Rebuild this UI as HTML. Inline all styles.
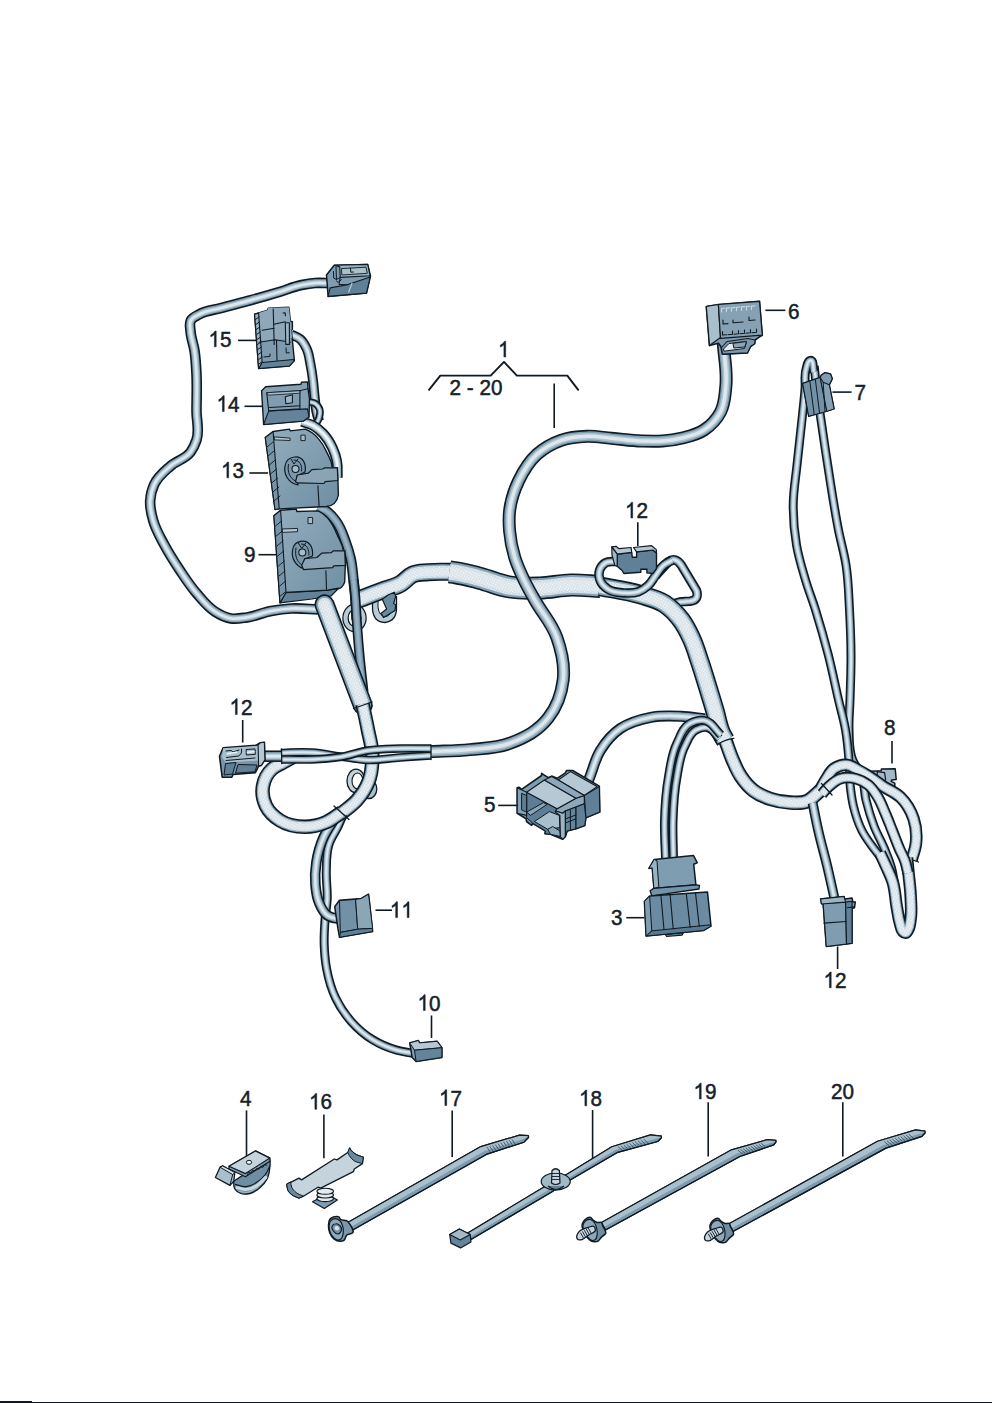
<!DOCTYPE html>
<html><head><meta charset="utf-8"><title>Wiring harness</title>
<style>
html,body{margin:0;padding:0;background:#fff;}
body{width:992px;height:1403px;overflow:hidden;font-family:"Liberation Sans",sans-serif;}
svg{display:block}
text{font-family:"Liberation Sans",sans-serif;fill:#14212b;}
</style></head><body>
<svg width="992" height="1403" viewBox="0 0 992 1403">
<rect width="992" height="1403" fill="#fff"/>
<defs><pattern id="dots" width="2.6" height="2.6" patternUnits="userSpaceOnUse" patternTransform="rotate(30)"><circle cx="1.3" cy="1.3" r="0.55" fill="#fff"/></pattern></defs>
<g fill="none" stroke-linecap="butt" stroke-linejoin="round"><path d="M330,283.2 C324.6,283.1 320.4,282.6 315,283 C310.1,283.3 306.4,284 301.6,285 C293.3,286.7 287.3,289.6 279.2,292 C269.1,295 261.2,297.3 251,300.1 C240.1,303.1 231.6,305.1 220.7,308.1 C213,310.2 206.4,310.3 199.5,314.2 C196.1,316.1 192.6,317.1 190.8,320.5 C189.1,323.9 190.3,327.2 190.5,331 C190.9,338.2 193.4,343.4 194.5,350.5 C195.8,359.1 196.1,366 196.5,374.7 C197.1,387.8 196.5,397.9 196.5,411 C196.5,421.4 199.7,430.1 196.5,440 C195,444.6 193.4,448.2 190.5,452.1 C185.2,459.2 176.9,460.3 170.3,466.2 C163.8,472 157.9,476.5 154.2,484.4 C151.7,489.8 150.6,494.5 150.2,500.5 C149.7,507.8 151.2,513.5 153.2,520.6 C155.8,529.8 159.8,536.3 164.3,544.8 C169.5,554.6 174.2,561.8 180.4,571 C185.9,579.2 190.1,585.7 196.5,593.2 C202.5,600.2 206.9,606.5 214.7,611.4 C220,614.8 224.6,617.4 230.8,618.4 C236.5,619.3 241.1,618.2 246.9,617.4 C255.8,616.2 262.2,612.6 271.1,611 C278.3,609.7 284,608.9 291.3,608.5 C300.9,608 308.4,609.1 318,609.5" stroke="#0f1a23" stroke-width="10.6"/><path d="M330,283.2 C324.6,283.1 320.4,282.6 315,283 C310.1,283.3 306.4,284 301.6,285 C293.3,286.7 287.3,289.6 279.2,292 C269.1,295 261.2,297.3 251,300.1 C240.1,303.1 231.6,305.1 220.7,308.1 C213,310.2 206.4,310.3 199.5,314.2 C196.1,316.1 192.6,317.1 190.8,320.5 C189.1,323.9 190.3,327.2 190.5,331 C190.9,338.2 193.4,343.4 194.5,350.5 C195.8,359.1 196.1,366 196.5,374.7 C197.1,387.8 196.5,397.9 196.5,411 C196.5,421.4 199.7,430.1 196.5,440 C195,444.6 193.4,448.2 190.5,452.1 C185.2,459.2 176.9,460.3 170.3,466.2 C163.8,472 157.9,476.5 154.2,484.4 C151.7,489.8 150.6,494.5 150.2,500.5 C149.7,507.8 151.2,513.5 153.2,520.6 C155.8,529.8 159.8,536.3 164.3,544.8 C169.5,554.6 174.2,561.8 180.4,571 C185.9,579.2 190.1,585.7 196.5,593.2 C202.5,600.2 206.9,606.5 214.7,611.4 C220,614.8 224.6,617.4 230.8,618.4 C236.5,619.3 241.1,618.2 246.9,617.4 C255.8,616.2 262.2,612.6 271.1,611 C278.3,609.7 284,608.9 291.3,608.5 C300.9,608 308.4,609.1 318,609.5" stroke="#7f9db1" stroke-width="7.4"/><path d="M330,283.2 C324.6,283.1 320.4,282.6 315,283 C310.1,283.3 306.4,284 301.6,285 C293.3,286.7 287.3,289.6 279.2,292 C269.1,295 261.2,297.3 251,300.1 C240.1,303.1 231.6,305.1 220.7,308.1 C213,310.2 206.4,310.3 199.5,314.2 C196.1,316.1 192.6,317.1 190.8,320.5 C189.1,323.9 190.3,327.2 190.5,331 C190.9,338.2 193.4,343.4 194.5,350.5 C195.8,359.1 196.1,366 196.5,374.7 C197.1,387.8 196.5,397.9 196.5,411 C196.5,421.4 199.7,430.1 196.5,440 C195,444.6 193.4,448.2 190.5,452.1 C185.2,459.2 176.9,460.3 170.3,466.2 C163.8,472 157.9,476.5 154.2,484.4 C151.7,489.8 150.6,494.5 150.2,500.5 C149.7,507.8 151.2,513.5 153.2,520.6 C155.8,529.8 159.8,536.3 164.3,544.8 C169.5,554.6 174.2,561.8 180.4,571 C185.9,579.2 190.1,585.7 196.5,593.2 C202.5,600.2 206.9,606.5 214.7,611.4 C220,614.8 224.6,617.4 230.8,618.4 C236.5,619.3 241.1,618.2 246.9,617.4 C255.8,616.2 262.2,612.6 271.1,611 C278.3,609.7 284,608.9 291.3,608.5 C300.9,608 308.4,609.1 318,609.5" stroke="#aec3d0" stroke-width="5"/><path d="M330,283.2 C324.6,283.1 320.4,282.6 315,283 C310.1,283.3 306.4,284 301.6,285 C293.3,286.7 287.3,289.6 279.2,292 C269.1,295 261.2,297.3 251,300.1 C240.1,303.1 231.6,305.1 220.7,308.1 C213,310.2 206.4,310.3 199.5,314.2 C196.1,316.1 192.6,317.1 190.8,320.5 C189.1,323.9 190.3,327.2 190.5,331 C190.9,338.2 193.4,343.4 194.5,350.5 C195.8,359.1 196.1,366 196.5,374.7 C197.1,387.8 196.5,397.9 196.5,411 C196.5,421.4 199.7,430.1 196.5,440 C195,444.6 193.4,448.2 190.5,452.1 C185.2,459.2 176.9,460.3 170.3,466.2 C163.8,472 157.9,476.5 154.2,484.4 C151.7,489.8 150.6,494.5 150.2,500.5 C149.7,507.8 151.2,513.5 153.2,520.6 C155.8,529.8 159.8,536.3 164.3,544.8 C169.5,554.6 174.2,561.8 180.4,571 C185.9,579.2 190.1,585.7 196.5,593.2 C202.5,600.2 206.9,606.5 214.7,611.4 C220,614.8 224.6,617.4 230.8,618.4 C236.5,619.3 241.1,618.2 246.9,617.4 C255.8,616.2 262.2,612.6 271.1,611 C278.3,609.7 284,608.9 291.3,608.5 C300.9,608 308.4,609.1 318,609.5" stroke="#dde7ec" stroke-width="2.7"/></g>
<path d="M326.5,275 L334.2,265.3 L367.7,264.4 L370.5,276.2 L366.5,293.1 L328.1,296.4Z" fill="#7f9cb0" stroke="#0f1a23" stroke-width="1.5" stroke-linejoin="round"/>
<path d="M328.1,296.4 L330.2,287.9 L347.1,284.7 L368.1,277.8 L370.3,276.5 L366.5,293.1Z" fill="#5f8097" stroke="#0f1a23" stroke-width="1.1" stroke-linejoin="round"/>
<path d="M334.2,265.3 L367.7,264.4 L370.1,275.8 L340.2,277.4 L339.8,266.9Z" fill="#9ab2c1" stroke="#0f1a23" stroke-width="1.1" stroke-linejoin="round"/>
<path d="M341.5,268.6 L366,267.2 L367.3,273.3 L341.8,275Z" fill="#a9bfcc" stroke="#0f1a23" stroke-width="0.9" stroke-linejoin="round"/>
<path d="M350.5,268.2 l0.3,4 l2.6,-0.2 M336,267 l0.5,12.5 l3.7,-2 M333.5,271.5 l0.2,6.5 l2.6,1.5 M336.3,281 q2,3 5,-1.5 M340.2,277.4 L339,284.5 L347.1,284.7" fill="none" stroke="#0f1a23" stroke-width="1" stroke-linejoin="round" stroke-linecap="round" />
<path d="M352,283.3 L348.7,292" fill="none" stroke="#b9cbd6" stroke-width="1.2" stroke-linejoin="round" stroke-linecap="round" />
<g fill="none" stroke-linecap="butt" stroke-linejoin="round"><path d="M291,334.5 C294.4,336.2 297.5,336.8 300.4,339.3 C303.4,341.9 304.8,344.9 306.5,348.4 C309.1,353.8 309.3,358.6 310.5,364.5 C311.7,370.3 312.3,374.8 313,380.6 C313.8,387.1 314,392.3 314.8,398.8 C315.4,403.6 315.5,407.3 316.5,412 C317.2,415.3 318.1,417.8 319,421" stroke="#0f1a23" stroke-width="10"/><path d="M291,334.5 C294.4,336.2 297.5,336.8 300.4,339.3 C303.4,341.9 304.8,344.9 306.5,348.4 C309.1,353.8 309.3,358.6 310.5,364.5 C311.7,370.3 312.3,374.8 313,380.6 C313.8,387.1 314,392.3 314.8,398.8 C315.4,403.6 315.5,407.3 316.5,412 C317.2,415.3 318.1,417.8 319,421" stroke="#7f9db1" stroke-width="6.8"/><path d="M291,334.5 C294.4,336.2 297.5,336.8 300.4,339.3 C303.4,341.9 304.8,344.9 306.5,348.4 C309.1,353.8 309.3,358.6 310.5,364.5 C311.7,370.3 312.3,374.8 313,380.6 C313.8,387.1 314,392.3 314.8,398.8 C315.4,403.6 315.5,407.3 316.5,412 C317.2,415.3 318.1,417.8 319,421" stroke="#aec3d0" stroke-width="4.6"/><path d="M291,334.5 C294.4,336.2 297.5,336.8 300.4,339.3 C303.4,341.9 304.8,344.9 306.5,348.4 C309.1,353.8 309.3,358.6 310.5,364.5 C311.7,370.3 312.3,374.8 313,380.6 C313.8,387.1 314,392.3 314.8,398.8 C315.4,403.6 315.5,407.3 316.5,412 C317.2,415.3 318.1,417.8 319,421" stroke="#dde7ec" stroke-width="2.4"/></g>
<g fill="none" stroke-linecap="butt" stroke-linejoin="round"><path d="M307,401.6 C310.1,402.4 313,401.9 315.6,403.8 C317.7,405.4 319.1,407.3 319.8,409.9 C320.6,412.7 319.9,415.1 319.1,417.9 C318.4,420.3 317.1,421.8 316,424" stroke="#0f1a23" stroke-width="7.5"/><path d="M307,401.6 C310.1,402.4 313,401.9 315.6,403.8 C317.7,405.4 319.1,407.3 319.8,409.9 C320.6,412.7 319.9,415.1 319.1,417.9 C318.4,420.3 317.1,421.8 316,424" stroke="#7f9db1" stroke-width="4.3"/><path d="M307,401.6 C310.1,402.4 313,401.9 315.6,403.8 C317.7,405.4 319.1,407.3 319.8,409.9 C320.6,412.7 319.9,415.1 319.1,417.9 C318.4,420.3 317.1,421.8 316,424" stroke="#aec3d0" stroke-width="2.9"/><path d="M307,401.6 C310.1,402.4 313,401.9 315.6,403.8 C317.7,405.4 319.1,407.3 319.8,409.9 C320.6,412.7 319.9,415.1 319.1,417.9 C318.4,420.3 317.1,421.8 316,424" stroke="#dde7ec" stroke-width="1.5"/></g>
<g fill="none" stroke-linecap="butt" stroke-linejoin="round"><path d="M302,421.5 C306,422.9 309.3,423.5 313,425.5 C317,427.7 319.8,430.2 323,433.5 C327.3,438 329.9,442.3 332.5,448 C334.6,452.5 335.8,456.2 336.8,461 C338,467 337.2,471.9 337.5,478" stroke="#0f1a23" stroke-width="10.5"/><path d="M302,421.5 C306,422.9 309.3,423.5 313,425.5 C317,427.7 319.8,430.2 323,433.5 C327.3,438 329.9,442.3 332.5,448 C334.6,452.5 335.8,456.2 336.8,461 C338,467 337.2,471.9 337.5,478" stroke="#8eaabb" stroke-width="7.3"/><path d="M302,421.5 C306,422.9 309.3,423.5 313,425.5 C317,427.7 319.8,430.2 323,433.5 C327.3,438 329.9,442.3 332.5,448 C334.6,452.5 335.8,456.2 336.8,461 C338,467 337.2,471.9 337.5,478" stroke="#bfd0da" stroke-width="5"/><path d="M302,421.5 C306,422.9 309.3,423.5 313,425.5 C317,427.7 319.8,430.2 323,433.5 C327.3,438 329.9,442.3 332.5,448 C334.6,452.5 335.8,456.2 336.8,461 C338,467 337.2,471.9 337.5,478" stroke="#eef3f6" stroke-width="2.6"/></g>
<g fill="none" stroke-linecap="butt" stroke-linejoin="round"><path d="M318,507 C321.2,508.6 324,509.4 327,511.5 C330.8,514.2 333.2,517.2 336,521 C340.9,527.5 342.7,533.9 345.5,541.5 C347.7,547.3 349.1,551.9 350.5,558 C352.3,565.8 352.6,572.1 353.5,580 C354.1,585 354.5,589 355,594 C355.9,603.3 356.1,610.6 356.7,620" stroke="#0f1a23" stroke-width="10.5"/><path d="M318,507 C321.2,508.6 324,509.4 327,511.5 C330.8,514.2 333.2,517.2 336,521 C340.9,527.5 342.7,533.9 345.5,541.5 C347.7,547.3 349.1,551.9 350.5,558 C352.3,565.8 352.6,572.1 353.5,580 C354.1,585 354.5,589 355,594 C355.9,603.3 356.1,610.6 356.7,620" stroke="#6d8ca2" stroke-width="7.3"/><path d="M318,507 C321.2,508.6 324,509.4 327,511.5 C330.8,514.2 333.2,517.2 336,521 C340.9,527.5 342.7,533.9 345.5,541.5 C347.7,547.3 349.1,551.9 350.5,558 C352.3,565.8 352.6,572.1 353.5,580 C354.1,585 354.5,589 355,594 C355.9,603.3 356.1,610.6 356.7,620" stroke="#86a3b6" stroke-width="5"/><path d="M318,507 C321.2,508.6 324,509.4 327,511.5 C330.8,514.2 333.2,517.2 336,521 C340.9,527.5 342.7,533.9 345.5,541.5 C347.7,547.3 349.1,551.9 350.5,558 C352.3,565.8 352.6,572.1 353.5,580 C354.1,585 354.5,589 355,594 C355.9,603.3 356.1,610.6 356.7,620" stroke="#9bb4c4" stroke-width="2.6"/></g>
<path d="M254.6,314.1 L267.7,310.1 L268.2,308.1 L288.9,307.3 L290.4,321.2 L292.4,321.7 L292.4,329.2 L291.4,330.2 L294.4,360.5 L289.4,366 L258.6,368.5Z" fill="#7e9bae" stroke="#0f1a23" stroke-width="1.4" stroke-linejoin="round"/>
<path d="M258.6,313.1 L267.7,310.1 L268.2,308.1 L288.9,307.3 L290.4,321.2 L291.5,331 L292,338 L262,341.5 L260.3,335Z" fill="#8ea8b9" stroke="#0f1a23" stroke-width="0" stroke-linejoin="round"/>
<path d="M258.6,368.5 L262.1,362.5 L293.4,359.5 L294.4,360.5 L289.4,366Z" fill="#63829a" stroke="#0f1a23" stroke-width="1.1" stroke-linejoin="round"/>
<path d="M254.6,314.1 L258.6,313.1 L262.1,362.5 L258.6,368.5Z" fill="#9ab2c1" stroke="#0f1a23" stroke-width="1.1" stroke-linejoin="round"/>
<path d="M255.4,319.5 l3.6,-2.5 M255.8,324.5 l3.6,-2.5 M256.2,329.5 l3.6,-2.5 M256.6,334.5 l3.6,-2.5 M257,339.5 l3.6,-2.5 M257.4,344.5 l3.6,-2.5 M257.8,349.5 l3.6,-2.5 M258.2,354.5 l3.6,-2.5 M258.6,359.5 l3.6,-2.5 M259,364 l3,-2.2" fill="none" stroke="#0f1a23" stroke-width="1" stroke-linejoin="round" stroke-linecap="round" />
<path d="M273.2,309 L274.2,344.4 M274,324.2 L285.3,321.7 M262.1,330.2 L274.2,328.2 M259.1,342.3 L275.2,339.8 L290.4,342.3 M276.5,340 L277,360.5 M283,313 l2.2,-0.3 l0.2,3" fill="none" stroke="#0f1a23" stroke-width="1.1" stroke-linejoin="round" stroke-linecap="round" />
<path d="M285.3,322.7 L289.4,322.7 L289.4,344.4 L285.8,344.4Z" fill="#9bb3c2" stroke="#0f1a23" stroke-width="1.1" stroke-linejoin="round"/>
<path d="M264,357 l6,-0.6 l0,-2.5 M286,348 l0.3,5 l3,-0.3" fill="none" stroke="#0f1a23" stroke-width="1" stroke-linejoin="round" stroke-linecap="round" />
<path d="M261.6,390.7 L265.7,386.7 L300.9,384.2 L301.5,382.2 L307.5,381.9 L308,388.7 L309.5,398.8 L309,416.9 L303.5,421 L263.6,424.5Z" fill="#86a1b3" stroke="#0f1a23" stroke-width="1.4" stroke-linejoin="round"/>
<path d="M263.6,424.5 L268.7,410.9 L307.5,408.9 L309,416.9 L303.5,421Z" fill="#64839a" stroke="#0f1a23" stroke-width="1.1" stroke-linejoin="round"/>
<path d="M266.7,392.7 L299.9,390.7 L299.9,408.9 L268.7,410.9Z" fill="#7f9cb0" stroke="#0f1a23" stroke-width="1.1" stroke-linejoin="round"/>
<path d="M268.5,395.2 L299.9,393.2 L299.9,390.7 L266.7,392.7Z" fill="#a7bcc9" stroke="#0f1a23" stroke-width="0.8" stroke-linejoin="round"/>
<path d="M285.3,396.8 L292.4,394.8 L292.4,402.8 L285.8,403.8Z" fill="#9fb6c4" stroke="#0f1a23" stroke-width="1.1" stroke-linejoin="round"/>
<path d="M299.9,390.7 L308,388.7 M269.5,407.5 L299.9,405.8" fill="none" stroke="#0f1a23" stroke-width="1" stroke-linejoin="round" stroke-linecap="round" />
<defs><linearGradient id="gface" x1="0" y1="0" x2="1" y2="1"><stop offset="0" stop-color="#93adbd"/><stop offset="1" stop-color="#6f8ea3"/></linearGradient></defs>
<path d="M265.3,437.5 L273.1,431.5 L289.5,429.1 L290.1,430.9 L305.2,429.1 C311,431.5 315,434.5 317.9,438.1 C321.5,442 324.5,447 326.4,451.4 C328.7,456 330.4,459.5 331.2,462.3 L332.4,468 L337.5,467.8 L338,482.9 L338.4,495 C337,503 332,506 326.4,506.5 L279.2,508.9 L275,509.5 Z" fill="url(#gface)" stroke="#0f1a23" stroke-width="1.4" stroke-linejoin="round" stroke-linecap="round" />
<path d="M265.3,437.5 L273.1,431.5 L279.2,508.9 L275,509.5 Z" fill="#7895a8" stroke="#0f1a23" stroke-width="1.1" stroke-linejoin="round" stroke-linecap="round" />
<path d="M267,447 l6,-5 M268,456 l6,-5 M269.3,465 l6,-5 M270.5,474 l6,-5 M271.7,483 l6,-5 M272.9,492 l6,-5 M274,501 l6,-5" fill="none" stroke="#0f1a23" stroke-width="0.9" stroke-linejoin="round" stroke-linecap="round" />
<path d="M274.4,436.9 L290.1,438.1 L290.1,440.5 L275,439.9 Z" fill="#b4c6d1" stroke="#0f1a23" stroke-width="0.9" stroke-linejoin="round" stroke-linecap="round" />
<path d="M301.3,435.1 h3.9 v5.5 h-3.9 Z" fill="#a9bdc9" stroke="#0f1a23" stroke-width="0.9" stroke-linejoin="round" stroke-linecap="round" />
<path d="M317.9,485.9 L319.1,506" fill="none" stroke="#0f1a23" stroke-width="1.1" stroke-linejoin="round" stroke-linecap="round" />
<path d="M294.5,457 C303,456 306.5,464 305,472 L297,476 L298,485 C288,483 283.5,474 285,466 C286,460 290,457.5 294.5,457 Z" fill="#7996aa" stroke="#0f1a23" stroke-width="1.2" stroke-linejoin="round" stroke-linecap="round" />
<path d="M294,460 C300,460 302.5,466 301.5,471 M288.5,464.5 C287,472 290,478.5 295.5,481 M291,459 l3,5 l4,-5" fill="none" stroke="#0f1a23" stroke-width="1" stroke-linejoin="round" stroke-linecap="round" />
<circle cx="295.5" cy="469" r="3.5" fill="#a9bdc9" stroke="#0f1a23" stroke-width="1.1"/>
<path d="M295.5,481.7 L297.3,475 L308.2,473.2 L311.9,469.6 L322.7,469 L324.6,467.8 L337.3,467.8 L337.9,480.5 L325.2,481.7 L323.9,483.5 L297.3,482.9 Z" fill="#8aa4b6" stroke="#0f1a23" stroke-width="1.2" stroke-linejoin="round" stroke-linecap="round" />
<path d="M280,602.8 L285.5,592.5 L327.7,590.1 L338.6,588.3 L331,596 L312,599 Z" fill="#63829a" stroke="#0f1a23" stroke-width="1.2" stroke-linejoin="round" stroke-linecap="round" />
<path d="M273.9,515.7 L280.6,510.3 L296.3,509.1 L296.9,511.5 L318.1,510.9 C322,512.5 325,515 327.7,518.1 C331,522 334,527.5 336.2,532.7 C338.5,537.5 340.8,542 342.3,546 L343.5,550.8 L344.7,550.8 L345.3,565.3 L344.7,582 C343,587 340,589 338.6,588.3 L327.7,590.1 L285.5,592.5 L280,602.8 Z" fill="url(#gface)" stroke="#0f1a23" stroke-width="1.4" stroke-linejoin="round" stroke-linecap="round" />
<path d="M273.9,515.7 L280.6,510.3 L286,592.5 L280,602.8 Z" fill="#7895a8" stroke="#0f1a23" stroke-width="1.1" stroke-linejoin="round" stroke-linecap="round" />
<path d="M275.5,526 l6,-5 M276.3,536 l6,-5 M277,546 l6,-5 M277.7,556 l6,-5 M278.4,566 l6,-5 M279,576 l6,-5 M279.7,586 l6,-5 M280.3,596 l5,-4" fill="none" stroke="#0f1a23" stroke-width="0.9" stroke-linejoin="round" stroke-linecap="round" />
<path d="M282.4,529 L297.5,528.4 L297.5,531.7 L283,532.4 Z" fill="#b4c6d1" stroke="#0f1a23" stroke-width="0.9" stroke-linejoin="round" stroke-linecap="round" />
<path d="M308.4,517.5 h4.2 v6.1 h-4.2 Z" fill="#a9bdc9" stroke="#0f1a23" stroke-width="0.9" stroke-linejoin="round" stroke-linecap="round" />
<path d="M325.9,570.8 L326.5,589.5" fill="none" stroke="#0f1a23" stroke-width="1.1" stroke-linejoin="round" stroke-linecap="round" />
<path d="M301.5,541.2 C310,540.5 313.5,548 312.4,556 L304.5,559 L304,568.8 C295.5,566 291,558 292.6,550 C293.5,544.5 297,541.8 301.5,541.2 Z" fill="#7996aa" stroke="#0f1a23" stroke-width="1.2" stroke-linejoin="round" stroke-linecap="round" />
<path d="M301.5,544 C307,544 309.5,550 308.8,555 M296,548 C294.5,556 297,562 302,565 M298.3,543 l3.5,5.5 l4,-5.5" fill="none" stroke="#0f1a23" stroke-width="1" stroke-linejoin="round" stroke-linecap="round" />
<circle cx="302.3" cy="552.5" r="3.5" fill="#a9bdc9" stroke="#0f1a23" stroke-width="1.1"/>
<path d="M301.7,565.3 L304.8,558.7 L316.9,557.5 L321.7,553.2 L331.4,552.6 L333.2,550.8 L344.7,550.8 L345.3,565.3 L333.8,565.9 L332.6,567.7 L303.5,569.6 Z" fill="#8aa4b6" stroke="#0f1a23" stroke-width="1.2" stroke-linejoin="round" stroke-linecap="round" />
<path d="M372.5,600 L372.5,606 Q372,622 385,622.5 Q397,621 396.5,607 L396.5,596" fill="#b9cbd6" stroke="#0f1a23" stroke-width="1.3"/><path d="M378,600 L378,607 Q379,616.5 386,616.5 Q391.5,615.5 392,607 L392,598" fill="#fff" stroke="#0f1a23" stroke-width="1"/>
<g fill="none" stroke-linecap="butt" stroke-linejoin="round"><path d="M357,600.3 C366,596.8 373,594 382,590.6 C388.8,588 394.7,587.2 401,583.5 C405.6,580.8 407.8,576.6 412.7,574.5 C417.8,572.3 422.5,572.7 428,572.2 C436.6,571.4 443.4,571.9 452,571.8" stroke="#0f1a23" stroke-width="18"/><path d="M357,600.3 C366,596.8 373,594 382,590.6 C388.8,588 394.7,587.2 401,583.5 C405.6,580.8 407.8,576.6 412.7,574.5 C417.8,572.3 422.5,572.7 428,572.2 C436.6,571.4 443.4,571.9 452,571.8" stroke="#83a2b6" stroke-width="14.8"/><path d="M357,600.3 C366,596.8 373,594 382,590.6 C388.8,588 394.7,587.2 401,583.5 C405.6,580.8 407.8,576.6 412.7,574.5 C417.8,572.3 422.5,572.7 428,572.2 C436.6,571.4 443.4,571.9 452,571.8" stroke="#cfdce4" stroke-width="11.8"/><path d="M357,600.3 C366,596.8 373,594 382,590.6 C388.8,588 394.7,587.2 401,583.5 C405.6,580.8 407.8,576.6 412.7,574.5 C417.8,572.3 422.5,572.7 428,572.2 C436.6,571.4 443.4,571.9 452,571.8" stroke="#dbe5eb" stroke-width="7.4"/><path d="M357,600.3 C366,596.8 373,594 382,590.6 C388.8,588 394.7,587.2 401,583.5 C405.6,580.8 407.8,576.6 412.7,574.5 C417.8,572.3 422.5,572.7 428,572.2 C436.6,571.4 443.4,571.9 452,571.8" stroke="url(#dots)" stroke-width="11"/></g>
<g fill="none" stroke-linecap="butt" stroke-linejoin="round"><path d="M449.5,571.9 C451.8,572.2 453.7,572.4 456,572.8 C464.8,574.2 471.4,576.1 480,578.3 C490.9,581.1 498.9,585.3 510,587 C520.7,588.7 529.2,588.3 540,588 C551.2,587.7 559.8,585.2 571,585 C581.6,584.8 589.8,585.9 600.3,586.4" stroke="#0f1a23" stroke-width="23"/><path d="M449.5,571.9 C451.8,572.2 453.7,572.4 456,572.8 C464.8,574.2 471.4,576.1 480,578.3 C490.9,581.1 498.9,585.3 510,587 C520.7,588.7 529.2,588.3 540,588 C551.2,587.7 559.8,585.2 571,585 C581.6,584.8 589.8,585.9 600.3,586.4" stroke="#83a2b6" stroke-width="19.8"/><path d="M449.5,571.9 C451.8,572.2 453.7,572.4 456,572.8 C464.8,574.2 471.4,576.1 480,578.3 C490.9,581.1 498.9,585.3 510,587 C520.7,588.7 529.2,588.3 540,588 C551.2,587.7 559.8,585.2 571,585 C581.6,584.8 589.8,585.9 600.3,586.4" stroke="#cfdce4" stroke-width="15.8"/><path d="M449.5,571.9 C451.8,572.2 453.7,572.4 456,572.8 C464.8,574.2 471.4,576.1 480,578.3 C490.9,581.1 498.9,585.3 510,587 C520.7,588.7 529.2,588.3 540,588 C551.2,587.7 559.8,585.2 571,585 C581.6,584.8 589.8,585.9 600.3,586.4" stroke="#dbe5eb" stroke-width="9.9"/><path d="M449.5,571.9 C451.8,572.2 453.7,572.4 456,572.8 C464.8,574.2 471.4,576.1 480,578.3 C490.9,581.1 498.9,585.3 510,587 C520.7,588.7 529.2,588.3 540,588 C551.2,587.7 559.8,585.2 571,585 C581.6,584.8 589.8,585.9 600.3,586.4" stroke="url(#dots)" stroke-width="14.7"/></g>
<g fill="none" stroke-linecap="butt" stroke-linejoin="round"><path d="M664,612 L671,606.5 Q676,601.8 684,601.6 L690,601.2 Q699.5,600 696.5,590.5 L681.5,565.5 Q675.5,556.5 668.5,561.5 L655.3,576" stroke="#0f1a23" stroke-width="9.5"/><path d="M664,612 L671,606.5 Q676,601.8 684,601.6 L690,601.2 Q699.5,600 696.5,590.5 L681.5,565.5 Q675.5,556.5 668.5,561.5 L655.3,576" stroke="#7f9db1" stroke-width="6.3"/><path d="M664,612 L671,606.5 Q676,601.8 684,601.6 L690,601.2 Q699.5,600 696.5,590.5 L681.5,565.5 Q675.5,556.5 668.5,561.5 L655.3,576" stroke="#aec3d0" stroke-width="4.3"/><path d="M664,612 L671,606.5 Q676,601.8 684,601.6 L690,601.2 Q699.5,600 696.5,590.5 L681.5,565.5 Q675.5,556.5 668.5,561.5 L655.3,576" stroke="#dde7ec" stroke-width="2.3"/></g>
<g fill="none" stroke-linecap="butt" stroke-linejoin="round"><path d="M600,586.4 C614.6,589.4 626.3,590.4 640.6,594.8 C649.3,597.5 656.6,598.7 664.2,603.6 C671.4,608.2 676.1,613.4 681.2,620.2 C685.7,626.2 688.2,631.6 691.4,638.4 C695.3,646.8 697.1,653.8 700.1,662.6 C703,671.3 705,678.1 707.7,686.8 C710.4,695.5 712.4,702.3 715,711 C717.6,719.7 718,727.2 722.3,735.2 C723.4,737.2 724.3,738.7 725.5,740.6" stroke="#0f1a23" stroke-width="19.5"/><path d="M600,586.4 C614.6,589.4 626.3,590.4 640.6,594.8 C649.3,597.5 656.6,598.7 664.2,603.6 C671.4,608.2 676.1,613.4 681.2,620.2 C685.7,626.2 688.2,631.6 691.4,638.4 C695.3,646.8 697.1,653.8 700.1,662.6 C703,671.3 705,678.1 707.7,686.8 C710.4,695.5 712.4,702.3 715,711 C717.6,719.7 718,727.2 722.3,735.2 C723.4,737.2 724.3,738.7 725.5,740.6" stroke="#83a2b6" stroke-width="16.3"/><path d="M600,586.4 C614.6,589.4 626.3,590.4 640.6,594.8 C649.3,597.5 656.6,598.7 664.2,603.6 C671.4,608.2 676.1,613.4 681.2,620.2 C685.7,626.2 688.2,631.6 691.4,638.4 C695.3,646.8 697.1,653.8 700.1,662.6 C703,671.3 705,678.1 707.7,686.8 C710.4,695.5 712.4,702.3 715,711 C717.6,719.7 718,727.2 722.3,735.2 C723.4,737.2 724.3,738.7 725.5,740.6" stroke="#cfdce4" stroke-width="13"/><path d="M600,586.4 C614.6,589.4 626.3,590.4 640.6,594.8 C649.3,597.5 656.6,598.7 664.2,603.6 C671.4,608.2 676.1,613.4 681.2,620.2 C685.7,626.2 688.2,631.6 691.4,638.4 C695.3,646.8 697.1,653.8 700.1,662.6 C703,671.3 705,678.1 707.7,686.8 C710.4,695.5 712.4,702.3 715,711 C717.6,719.7 718,727.2 722.3,735.2 C723.4,737.2 724.3,738.7 725.5,740.6" stroke="#dbe5eb" stroke-width="8.2"/><path d="M600,586.4 C614.6,589.4 626.3,590.4 640.6,594.8 C649.3,597.5 656.6,598.7 664.2,603.6 C671.4,608.2 676.1,613.4 681.2,620.2 C685.7,626.2 688.2,631.6 691.4,638.4 C695.3,646.8 697.1,653.8 700.1,662.6 C703,671.3 705,678.1 707.7,686.8 C710.4,695.5 712.4,702.3 715,711 C717.6,719.7 718,727.2 722.3,735.2 C723.4,737.2 724.3,738.7 725.5,740.6" stroke="url(#dots)" stroke-width="12.1"/></g>
<ellipse cx="354.5" cy="618" rx="9" ry="11" fill="none" stroke="#0f1a23" stroke-width="6.5"/><ellipse cx="354.5" cy="618" rx="9" ry="11" fill="none" stroke="#b9cbd6" stroke-width="4"/>
<path d="M382.3,599.3 L388,595 L394.3,592.2 L395.7,596.4 L393.6,603.5 L395.7,604.9 L395,610.6 L383.7,617.6 L380.9,613.4 L386.6,609.1Z" fill="#6a8aa0" stroke="#0f1a23" stroke-width="1.2" stroke-linejoin="round"/>
<g fill="none" stroke-linecap="butt" stroke-linejoin="round"><path d="M353.5,580 C354,585 354.5,589 355,594 C355.9,603.3 356,610.6 356.7,620 C357.6,632.6 358.3,642.4 359.5,655 C360.7,668.3 362.1,678.7 363.5,692" stroke="#0f1a23" stroke-width="10"/><path d="M353.5,580 C354,585 354.5,589 355,594 C355.9,603.3 356,610.6 356.7,620 C357.6,632.6 358.3,642.4 359.5,655 C360.7,668.3 362.1,678.7 363.5,692" stroke="#6d8ca2" stroke-width="6.8"/><path d="M353.5,580 C354,585 354.5,589 355,594 C355.9,603.3 356,610.6 356.7,620 C357.6,632.6 358.3,642.4 359.5,655 C360.7,668.3 362.1,678.7 363.5,692" stroke="#86a3b6" stroke-width="4.6"/><path d="M353.5,580 C354,585 354.5,589 355,594 C355.9,603.3 356,610.6 356.7,620 C357.6,632.6 358.3,642.4 359.5,655 C360.7,668.3 362.1,678.7 363.5,692" stroke="#9bb4c4" stroke-width="2.4"/></g>
<ellipse cx="369" cy="789" rx="7.8" ry="9.5" fill="#a9bfcc" stroke="#0f1a23" stroke-width="1.3"/>
<ellipse cx="356" cy="781" rx="9" ry="11.8" fill="#c3d2dc" stroke="#0f1a23" stroke-width="1.3"/><ellipse cx="357.5" cy="781" rx="5.5" ry="8" fill="#fff" stroke="#0f1a23" stroke-width="1.1"/>
<g fill="none" stroke-linecap="round" stroke-linejoin="round"><path d="M324.5,604.4 L362.8,705.2" stroke="#0f1a23" stroke-width="20"/><path d="M324.5,604.4 L362.8,705.2" stroke="#83a2b6" stroke-width="16.8"/><path d="M324.5,604.4 L362.8,705.2" stroke="#cfdce4" stroke-width="13.4"/><path d="M324.5,604.4 L362.8,705.2" stroke="#dbe5eb" stroke-width="8.4"/><path d="M324.5,604.4 L362.8,705.2" stroke="url(#dots)" stroke-width="12.4"/></g>
<g fill="none" stroke-linecap="butt" stroke-linejoin="round"><path d="M362.5,704 C364.4,713.1 366.1,720.2 367.8,729.3 C369.6,738.7 372.2,745.9 372.3,755.5 C372.4,765 372,772.8 368.5,781.7 C365.7,789 362.1,794.2 357,800.1 C352.2,805.6 347.1,808.5 341.5,813.2" stroke="#0f1a23" stroke-width="14.5"/><path d="M362.5,704 C364.4,713.1 366.1,720.2 367.8,729.3 C369.6,738.7 372.2,745.9 372.3,755.5 C372.4,765 372,772.8 368.5,781.7 C365.7,789 362.1,794.2 357,800.1 C352.2,805.6 347.1,808.5 341.5,813.2" stroke="#83a2b6" stroke-width="11.3"/><path d="M362.5,704 C364.4,713.1 366.1,720.2 367.8,729.3 C369.6,738.7 372.2,745.9 372.3,755.5 C372.4,765 372,772.8 368.5,781.7 C365.7,789 362.1,794.2 357,800.1 C352.2,805.6 347.1,808.5 341.5,813.2" stroke="#cfdce4" stroke-width="9"/><path d="M362.5,704 C364.4,713.1 366.1,720.2 367.8,729.3 C369.6,738.7 372.2,745.9 372.3,755.5 C372.4,765 372,772.8 368.5,781.7 C365.7,789 362.1,794.2 357,800.1 C352.2,805.6 347.1,808.5 341.5,813.2" stroke="#dbe5eb" stroke-width="5.7"/><path d="M362.5,704 C364.4,713.1 366.1,720.2 367.8,729.3 C369.6,738.7 372.2,745.9 372.3,755.5 C372.4,765 372,772.8 368.5,781.7 C365.7,789 362.1,794.2 357,800.1 C352.2,805.6 347.1,808.5 341.5,813.2" stroke="url(#dots)" stroke-width="8.4"/></g>
<path d="M353.6,708.5 L372,702" fill="none" stroke="#0f1a23" stroke-width="1.3" stroke-linejoin="round" stroke-linecap="round" />
<g fill="none" stroke-linecap="butt" stroke-linejoin="round"><path d="M343.5,814 C341.6,818.4 340.1,821.9 338.1,826.3 C335,832.9 331.2,837.5 329,844.4 C326,853.8 326.6,861.8 326.3,871.7 C326,881.5 327.6,889.1 327.2,898.9 C326.9,906.6 325.5,912.6 325,920.3 C324.4,929 323.9,935.8 324.2,944.5 C324.5,953.3 325,960.1 326.6,968.7 C328.6,979.4 330.8,987.8 335.5,997.7 C340,1007.1 344.6,1014.1 351.6,1021.9 C358.2,1029.3 364.2,1034.5 372.6,1039.7 C380.7,1044.7 387.7,1047.6 396.8,1050.2 C402.5,1051.8 407.2,1052.2 413,1053.4" stroke="#0f1a23" stroke-width="9"/><path d="M343.5,814 C341.6,818.4 340.1,821.9 338.1,826.3 C335,832.9 331.2,837.5 329,844.4 C326,853.8 326.6,861.8 326.3,871.7 C326,881.5 327.6,889.1 327.2,898.9 C326.9,906.6 325.5,912.6 325,920.3 C324.4,929 323.9,935.8 324.2,944.5 C324.5,953.3 325,960.1 326.6,968.7 C328.6,979.4 330.8,987.8 335.5,997.7 C340,1007.1 344.6,1014.1 351.6,1021.9 C358.2,1029.3 364.2,1034.5 372.6,1039.7 C380.7,1044.7 387.7,1047.6 396.8,1050.2 C402.5,1051.8 407.2,1052.2 413,1053.4" stroke="#7f9db1" stroke-width="5.8"/><path d="M343.5,814 C341.6,818.4 340.1,821.9 338.1,826.3 C335,832.9 331.2,837.5 329,844.4 C326,853.8 326.6,861.8 326.3,871.7 C326,881.5 327.6,889.1 327.2,898.9 C326.9,906.6 325.5,912.6 325,920.3 C324.4,929 323.9,935.8 324.2,944.5 C324.5,953.3 325,960.1 326.6,968.7 C328.6,979.4 330.8,987.8 335.5,997.7 C340,1007.1 344.6,1014.1 351.6,1021.9 C358.2,1029.3 364.2,1034.5 372.6,1039.7 C380.7,1044.7 387.7,1047.6 396.8,1050.2 C402.5,1051.8 407.2,1052.2 413,1053.4" stroke="#aec3d0" stroke-width="3.9"/><path d="M343.5,814 C341.6,818.4 340.1,821.9 338.1,826.3 C335,832.9 331.2,837.5 329,844.4 C326,853.8 326.6,861.8 326.3,871.7 C326,881.5 327.6,889.1 327.2,898.9 C326.9,906.6 325.5,912.6 325,920.3 C324.4,929 323.9,935.8 324.2,944.5 C324.5,953.3 325,960.1 326.6,968.7 C328.6,979.4 330.8,987.8 335.5,997.7 C340,1007.1 344.6,1014.1 351.6,1021.9 C358.2,1029.3 364.2,1034.5 372.6,1039.7 C380.7,1044.7 387.7,1047.6 396.8,1050.2 C402.5,1051.8 407.2,1052.2 413,1053.4" stroke="#dde7ec" stroke-width="2.1"/></g>
<g fill="none" stroke-linecap="butt" stroke-linejoin="round"><path d="M338.5,812.5 C337,814.8 335.9,816.6 334.4,819 C330.4,825.5 326.7,830.2 323.6,837.2 C319.7,845.9 317.7,853.2 316.3,862.6 C315.1,870.4 314.7,876.6 315.4,884.4 C316,891 316.4,896.4 319,902.5 C321.1,907.5 322.8,911.9 327.2,915.2 C331.4,918.3 336,918 341,919.5" stroke="#0f1a23" stroke-width="10.5"/><path d="M338.5,812.5 C337,814.8 335.9,816.6 334.4,819 C330.4,825.5 326.7,830.2 323.6,837.2 C319.7,845.9 317.7,853.2 316.3,862.6 C315.1,870.4 314.7,876.6 315.4,884.4 C316,891 316.4,896.4 319,902.5 C321.1,907.5 322.8,911.9 327.2,915.2 C331.4,918.3 336,918 341,919.5" stroke="#7f9db1" stroke-width="7.3"/><path d="M338.5,812.5 C337,814.8 335.9,816.6 334.4,819 C330.4,825.5 326.7,830.2 323.6,837.2 C319.7,845.9 317.7,853.2 316.3,862.6 C315.1,870.4 314.7,876.6 315.4,884.4 C316,891 316.4,896.4 319,902.5 C321.1,907.5 322.8,911.9 327.2,915.2 C331.4,918.3 336,918 341,919.5" stroke="#aec3d0" stroke-width="5"/><path d="M338.5,812.5 C337,814.8 335.9,816.6 334.4,819 C330.4,825.5 326.7,830.2 323.6,837.2 C319.7,845.9 317.7,853.2 316.3,862.6 C315.1,870.4 314.7,876.6 315.4,884.4 C316,891 316.4,896.4 319,902.5 C321.1,907.5 322.8,911.9 327.2,915.2 C331.4,918.3 336,918 341,919.5" stroke="#dde7ec" stroke-width="2.6"/></g>
<g fill="none" stroke-linecap="butt" stroke-linejoin="round"><path d="M293,757 C289.4,759 286.6,760.5 283,762.5 C279,764.8 275.4,765.9 272,769 C266.9,773.7 264.2,779.2 263,786 C261.7,793.2 262.8,799.5 266,806 C269.2,812.5 273.9,816.6 280,820.5 C287.8,825.4 295.6,826.8 304.8,826.8 C312.5,826.8 318.7,825.4 325.8,822.4 C332,819.8 335.8,816.1 341.5,812.5" stroke="#0f1a23" stroke-width="14.5"/><path d="M293,757 C289.4,759 286.6,760.5 283,762.5 C279,764.8 275.4,765.9 272,769 C266.9,773.7 264.2,779.2 263,786 C261.7,793.2 262.8,799.5 266,806 C269.2,812.5 273.9,816.6 280,820.5 C287.8,825.4 295.6,826.8 304.8,826.8 C312.5,826.8 318.7,825.4 325.8,822.4 C332,819.8 335.8,816.1 341.5,812.5" stroke="#83a2b6" stroke-width="11.3"/><path d="M293,757 C289.4,759 286.6,760.5 283,762.5 C279,764.8 275.4,765.9 272,769 C266.9,773.7 264.2,779.2 263,786 C261.7,793.2 262.8,799.5 266,806 C269.2,812.5 273.9,816.6 280,820.5 C287.8,825.4 295.6,826.8 304.8,826.8 C312.5,826.8 318.7,825.4 325.8,822.4 C332,819.8 335.8,816.1 341.5,812.5" stroke="#cfdce4" stroke-width="9"/><path d="M293,757 C289.4,759 286.6,760.5 283,762.5 C279,764.8 275.4,765.9 272,769 C266.9,773.7 264.2,779.2 263,786 C261.7,793.2 262.8,799.5 266,806 C269.2,812.5 273.9,816.6 280,820.5 C287.8,825.4 295.6,826.8 304.8,826.8 C312.5,826.8 318.7,825.4 325.8,822.4 C332,819.8 335.8,816.1 341.5,812.5" stroke="#dbe5eb" stroke-width="5.7"/><path d="M293,757 C289.4,759 286.6,760.5 283,762.5 C279,764.8 275.4,765.9 272,769 C266.9,773.7 264.2,779.2 263,786 C261.7,793.2 262.8,799.5 266,806 C269.2,812.5 273.9,816.6 280,820.5 C287.8,825.4 295.6,826.8 304.8,826.8 C312.5,826.8 318.7,825.4 325.8,822.4 C332,819.8 335.8,816.1 341.5,812.5" stroke="url(#dots)" stroke-width="8.4"/></g>
<path d="M334,806 L349,819.5" fill="none" stroke="#0f1a23" stroke-width="1.3" stroke-linejoin="round" stroke-linecap="round" />
<g fill="none" stroke-linecap="butt" stroke-linejoin="round"><path d="M725.5,740.6 C728,747.4 729.6,752.8 732.5,759.5 C735.2,765.7 737.1,770.8 740.9,776.4 C744.7,782.1 748.1,786.5 753.6,790.6 C759,794.7 764.1,796.8 770.6,799 C777.4,801.3 783.1,802.3 790.3,802.6 C796.4,802.8 801.7,803.7 807.3,801.1 C810.7,799.5 812.8,797.3 815.7,794.8 C819,792 821.5,789.7 824.2,786.3 C825.7,784.5 826.6,782.9 828,781" stroke="#0f1a23" stroke-width="14.5"/><path d="M725.5,740.6 C728,747.4 729.6,752.8 732.5,759.5 C735.2,765.7 737.1,770.8 740.9,776.4 C744.7,782.1 748.1,786.5 753.6,790.6 C759,794.7 764.1,796.8 770.6,799 C777.4,801.3 783.1,802.3 790.3,802.6 C796.4,802.8 801.7,803.7 807.3,801.1 C810.7,799.5 812.8,797.3 815.7,794.8 C819,792 821.5,789.7 824.2,786.3 C825.7,784.5 826.6,782.9 828,781" stroke="#83a2b6" stroke-width="11.3"/><path d="M725.5,740.6 C728,747.4 729.6,752.8 732.5,759.5 C735.2,765.7 737.1,770.8 740.9,776.4 C744.7,782.1 748.1,786.5 753.6,790.6 C759,794.7 764.1,796.8 770.6,799 C777.4,801.3 783.1,802.3 790.3,802.6 C796.4,802.8 801.7,803.7 807.3,801.1 C810.7,799.5 812.8,797.3 815.7,794.8 C819,792 821.5,789.7 824.2,786.3 C825.7,784.5 826.6,782.9 828,781" stroke="#cfdce4" stroke-width="9"/><path d="M725.5,740.6 C728,747.4 729.6,752.8 732.5,759.5 C735.2,765.7 737.1,770.8 740.9,776.4 C744.7,782.1 748.1,786.5 753.6,790.6 C759,794.7 764.1,796.8 770.6,799 C777.4,801.3 783.1,802.3 790.3,802.6 C796.4,802.8 801.7,803.7 807.3,801.1 C810.7,799.5 812.8,797.3 815.7,794.8 C819,792 821.5,789.7 824.2,786.3 C825.7,784.5 826.6,782.9 828,781" stroke="#dbe5eb" stroke-width="5.7"/><path d="M725.5,740.6 C728,747.4 729.6,752.8 732.5,759.5 C735.2,765.7 737.1,770.8 740.9,776.4 C744.7,782.1 748.1,786.5 753.6,790.6 C759,794.7 764.1,796.8 770.6,799 C777.4,801.3 783.1,802.3 790.3,802.6 C796.4,802.8 801.7,803.7 807.3,801.1 C810.7,799.5 812.8,797.3 815.7,794.8 C819,792 821.5,789.7 824.2,786.3 C825.7,784.5 826.6,782.9 828,781" stroke="url(#dots)" stroke-width="8.4"/></g>
<path d="M718.3,744 Q725,739.5 733.9,738.3" fill="none" stroke="#0f1a23" stroke-width="1.3" stroke-linejoin="round" stroke-linecap="round" />
<g fill="none" stroke-linecap="butt" stroke-linejoin="round"><path d="M723.3,343 C724.2,358.8 727.5,371.2 725.8,386.9 C724.8,396 724.8,403.7 720.6,411.9 C716.5,419.7 711.4,425.1 704,430 C697.1,434.6 690.4,435.9 682.3,438 C668.2,441.6 656.5,441.3 641.9,441 C630.9,440.8 622.4,439.2 611.5,438.3 C602.8,437.6 596,436 587.3,436.3 C577.7,436.6 570,437.1 561,440.3 C551.5,443.6 544.4,447.7 536.9,454.4 C528.4,462.1 523.7,470.3 518.7,480.6 C513.8,490.9 510.9,499.6 509.6,510.9 C508.8,518.1 509,523.8 509.6,531 C510.4,540.6 511.9,548.1 514.7,557.3 C517.4,566.3 520.7,573 524.8,581.5 C528.1,588.3 531.1,593.4 534.8,600 C542.4,613.7 551.6,622.7 556.8,637.4 C561.9,651.9 565,664.4 563.2,679.7 C561.5,694.3 557.3,706.2 548.3,717.8 C538.2,730.8 525.6,737.4 510.2,743.2 C496.5,748.4 484.6,748.1 470,749.6 C455.7,751.1 444.4,750.9 430,751.6" stroke="#0f1a23" stroke-width="13"/><path d="M723.3,343 C724.2,358.8 727.5,371.2 725.8,386.9 C724.8,396 724.8,403.7 720.6,411.9 C716.5,419.7 711.4,425.1 704,430 C697.1,434.6 690.4,435.9 682.3,438 C668.2,441.6 656.5,441.3 641.9,441 C630.9,440.8 622.4,439.2 611.5,438.3 C602.8,437.6 596,436 587.3,436.3 C577.7,436.6 570,437.1 561,440.3 C551.5,443.6 544.4,447.7 536.9,454.4 C528.4,462.1 523.7,470.3 518.7,480.6 C513.8,490.9 510.9,499.6 509.6,510.9 C508.8,518.1 509,523.8 509.6,531 C510.4,540.6 511.9,548.1 514.7,557.3 C517.4,566.3 520.7,573 524.8,581.5 C528.1,588.3 531.1,593.4 534.8,600 C542.4,613.7 551.6,622.7 556.8,637.4 C561.9,651.9 565,664.4 563.2,679.7 C561.5,694.3 557.3,706.2 548.3,717.8 C538.2,730.8 525.6,737.4 510.2,743.2 C496.5,748.4 484.6,748.1 470,749.6 C455.7,751.1 444.4,750.9 430,751.6" stroke="#7f9db1" stroke-width="9.8"/><path d="M723.3,343 C724.2,358.8 727.5,371.2 725.8,386.9 C724.8,396 724.8,403.7 720.6,411.9 C716.5,419.7 711.4,425.1 704,430 C697.1,434.6 690.4,435.9 682.3,438 C668.2,441.6 656.5,441.3 641.9,441 C630.9,440.8 622.4,439.2 611.5,438.3 C602.8,437.6 596,436 587.3,436.3 C577.7,436.6 570,437.1 561,440.3 C551.5,443.6 544.4,447.7 536.9,454.4 C528.4,462.1 523.7,470.3 518.7,480.6 C513.8,490.9 510.9,499.6 509.6,510.9 C508.8,518.1 509,523.8 509.6,531 C510.4,540.6 511.9,548.1 514.7,557.3 C517.4,566.3 520.7,573 524.8,581.5 C528.1,588.3 531.1,593.4 534.8,600 C542.4,613.7 551.6,622.7 556.8,637.4 C561.9,651.9 565,664.4 563.2,679.7 C561.5,694.3 557.3,706.2 548.3,717.8 C538.2,730.8 525.6,737.4 510.2,743.2 C496.5,748.4 484.6,748.1 470,749.6 C455.7,751.1 444.4,750.9 430,751.6" stroke="#aec3d0" stroke-width="6.7"/><path d="M723.3,343 C724.2,358.8 727.5,371.2 725.8,386.9 C724.8,396 724.8,403.7 720.6,411.9 C716.5,419.7 711.4,425.1 704,430 C697.1,434.6 690.4,435.9 682.3,438 C668.2,441.6 656.5,441.3 641.9,441 C630.9,440.8 622.4,439.2 611.5,438.3 C602.8,437.6 596,436 587.3,436.3 C577.7,436.6 570,437.1 561,440.3 C551.5,443.6 544.4,447.7 536.9,454.4 C528.4,462.1 523.7,470.3 518.7,480.6 C513.8,490.9 510.9,499.6 509.6,510.9 C508.8,518.1 509,523.8 509.6,531 C510.4,540.6 511.9,548.1 514.7,557.3 C517.4,566.3 520.7,573 524.8,581.5 C528.1,588.3 531.1,593.4 534.8,600 C542.4,613.7 551.6,622.7 556.8,637.4 C561.9,651.9 565,664.4 563.2,679.7 C561.5,694.3 557.3,706.2 548.3,717.8 C538.2,730.8 525.6,737.4 510.2,743.2 C496.5,748.4 484.6,748.1 470,749.6 C455.7,751.1 444.4,750.9 430,751.6" stroke="#dde7ec" stroke-width="3.5"/></g>
<g fill="none" stroke-linecap="butt" stroke-linejoin="round"><path d="M431,755.5 C419.8,756.2 411.2,756.7 400,757.5 C388.5,758.3 379.5,760.3 368,760 C357.8,759.7 350.1,757.8 340,756.5 C329.9,755.1 322.2,753.1 312,752.5 C304.1,752 297.9,752.2 290,752.5 C286.8,752.6 284.2,752.8 281,753" stroke="#0f1a23" stroke-width="8.5"/><path d="M431,755.5 C419.8,756.2 411.2,756.7 400,757.5 C388.5,758.3 379.5,760.3 368,760 C357.8,759.7 350.1,757.8 340,756.5 C329.9,755.1 322.2,753.1 312,752.5 C304.1,752 297.9,752.2 290,752.5 C286.8,752.6 284.2,752.8 281,753" stroke="#7f9db1" stroke-width="5.3"/><path d="M431,755.5 C419.8,756.2 411.2,756.7 400,757.5 C388.5,758.3 379.5,760.3 368,760 C357.8,759.7 350.1,757.8 340,756.5 C329.9,755.1 322.2,753.1 312,752.5 C304.1,752 297.9,752.2 290,752.5 C286.8,752.6 284.2,752.8 281,753" stroke="#aec3d0" stroke-width="3.6"/><path d="M431,755.5 C419.8,756.2 411.2,756.7 400,757.5 C388.5,758.3 379.5,760.3 368,760 C357.8,759.7 350.1,757.8 340,756.5 C329.9,755.1 322.2,753.1 312,752.5 C304.1,752 297.9,752.2 290,752.5 C286.8,752.6 284.2,752.8 281,753" stroke="#dde7ec" stroke-width="1.9"/></g>
<g fill="none" stroke-linecap="butt" stroke-linejoin="round"><path d="M431,748.5 C419.8,748.5 411.2,748.2 400,748.5 C388.5,748.9 379.4,748.8 368,750.5 C357.8,752 350.2,755.4 340,757 C330,758.6 322.1,759.1 312,759.5 C304.1,759.8 297.9,759.5 290,759.5 C286.8,759.5 284.2,759.5 281,759.5" stroke="#0f1a23" stroke-width="8.5"/><path d="M431,748.5 C419.8,748.5 411.2,748.2 400,748.5 C388.5,748.9 379.4,748.8 368,750.5 C357.8,752 350.2,755.4 340,757 C330,758.6 322.1,759.1 312,759.5 C304.1,759.8 297.9,759.5 290,759.5 C286.8,759.5 284.2,759.5 281,759.5" stroke="#7f9db1" stroke-width="5.3"/><path d="M431,748.5 C419.8,748.5 411.2,748.2 400,748.5 C388.5,748.9 379.4,748.8 368,750.5 C357.8,752 350.2,755.4 340,757 C330,758.6 322.1,759.1 312,759.5 C304.1,759.8 297.9,759.5 290,759.5 C286.8,759.5 284.2,759.5 281,759.5" stroke="#aec3d0" stroke-width="3.6"/><path d="M431,748.5 C419.8,748.5 411.2,748.2 400,748.5 C388.5,748.9 379.4,748.8 368,750.5 C357.8,752 350.2,755.4 340,757 C330,758.6 322.1,759.1 312,759.5 C304.1,759.8 297.9,759.5 290,759.5 C286.8,759.5 284.2,759.5 281,759.5" stroke="#dde7ec" stroke-width="1.9"/></g>
<g fill="none" stroke-linecap="butt" stroke-linejoin="round"><path d="M264,756.2 L281.5,756.2" stroke="#0f1a23" stroke-width="11.5"/><path d="M264,756.2 L281.5,756.2" stroke="#7f9db1" stroke-width="8.3"/><path d="M264,756.2 L281.5,756.2" stroke="#aec3d0" stroke-width="5.6"/><path d="M264,756.2 L281.5,756.2" stroke="#dde7ec" stroke-width="3"/></g>
<path d="M431,745 L431,759.5" fill="none" stroke="#0f1a23" stroke-width="1.3" stroke-linejoin="round" stroke-linecap="round" />
<path d="M281.5,749 L281.8,763.5" fill="none" stroke="#0f1a23" stroke-width="1.3" stroke-linejoin="round" stroke-linecap="round" />
<path d="M706.3,306.5 L718.4,304.5 L759.5,301.3 L762.3,335.2 L759.5,336.8 L755.1,340 L754.7,343.6 L750.6,346.5 L747.4,352.9 L722.4,354.1 L720.8,346.5 L718.4,343.2 L709.5,345.6Z" fill="#7f9cb0" stroke="#0f1a23" stroke-width="1.6" stroke-linejoin="round"/>
<path d="M721.5,347.5 L727,341.5 L748,338.5 L755.1,340 L754.7,343.6 L750.6,346.5 L747.4,352.9 L722.4,354.1Z" fill="#7b98ac" stroke="#0f1a23" stroke-width="1.1" stroke-linejoin="round"/>
<path d="M723.5,349 L729,343.5 L746.5,341.5 L744.5,348.5 L724,351.2Z" fill="#e4ecf0" stroke="#0f1a23" stroke-width="1" stroke-linejoin="round"/>
<path d="M733,343.3 L746.5,341.5 L744.8,347 L733.8,348Z" fill="#8aa5b6" stroke="#0f1a23" stroke-width="1" stroke-linejoin="round"/>
<path d="M706.3,306.5 L718.4,304.5 L720.5,337.5 L709.5,345.6Z" fill="#a9bfcc" stroke="#0f1a23" stroke-width="1.2" stroke-linejoin="round"/>
<path d="M718.4,304.5 L759.5,301.3 L762.3,335.2 L720.5,338.4Z" fill="#86a1b3" stroke="#0f1a23" stroke-width="1.2" stroke-linejoin="round"/>
<path d="M721.5,312 l0,-3.5 l3.5,-0.3 M726.5,311.6 l0,-3.5 l3.5,-0.3 M731.5,311.2 l0,-3.5 l3.5,-0.3 M736.5,310.8 l0,-3.5 l3.5,-0.3 M741.5,310.4 l0,-3.5 l3.5,-0.3 M746.5,310 l0,-3.5 l3.5,-0.3 M751.5,309.6 l0,-3.5 l3.5,-0.3" fill="none" stroke="#c9d7df" stroke-width="1.1" stroke-linejoin="round" stroke-linecap="round" />
<path d="M723,320 l0,4 l5,-0.4 M733,320 l0,2.8 l10,-0.8 M749,317 l0,3.5 l6,-0.5" fill="none" stroke="#0f1a23" stroke-width="1.1" stroke-linejoin="round" stroke-linecap="round" />
<path d="M722.5,331.5 l0,3.5 l4,-0.3 M728,334.7 l4.5,-0.4 l0,-3.3 M734,334.2 l4.5,-0.4 l0,-3.3 M740,333.7 l4.5,-0.4 l0,-3.3 M746,333.2 l4.5,-0.4 l0,-3.3 M752,332.7 l4.5,-0.4 l0,-3.3" fill="none" stroke="#0f1a23" stroke-width="1.1" stroke-linejoin="round" stroke-linecap="round" />
<g fill="none" stroke-linecap="butt" stroke-linejoin="round"><path d="M672.3,560.2 C669.2,562 666.5,562.9 663.8,565.1 C659.9,568.2 658.3,572 655.3,576 C652.7,579.4 651.3,582.7 648.1,585.6 C645.1,588.4 642.3,590.3 638.4,591.7 C633.5,593.5 629.1,593.2 623.9,592.9 C618.1,592.5 613,592.5 608.1,589.3 C604.6,587 601.9,584.6 600.3,580.8 C598.8,577.2 598.4,573.6 599.7,569.9 C600.9,566.7 602.8,564.4 605.7,562.7 C608.9,560.9 612.3,561.9 616,561.5" stroke="#0f1a23" stroke-width="9.5"/><path d="M672.3,560.2 C669.2,562 666.5,562.9 663.8,565.1 C659.9,568.2 658.3,572 655.3,576 C652.7,579.4 651.3,582.7 648.1,585.6 C645.1,588.4 642.3,590.3 638.4,591.7 C633.5,593.5 629.1,593.2 623.9,592.9 C618.1,592.5 613,592.5 608.1,589.3 C604.6,587 601.9,584.6 600.3,580.8 C598.8,577.2 598.4,573.6 599.7,569.9 C600.9,566.7 602.8,564.4 605.7,562.7 C608.9,560.9 612.3,561.9 616,561.5" stroke="#7f9db1" stroke-width="6.3"/><path d="M672.3,560.2 C669.2,562 666.5,562.9 663.8,565.1 C659.9,568.2 658.3,572 655.3,576 C652.7,579.4 651.3,582.7 648.1,585.6 C645.1,588.4 642.3,590.3 638.4,591.7 C633.5,593.5 629.1,593.2 623.9,592.9 C618.1,592.5 613,592.5 608.1,589.3 C604.6,587 601.9,584.6 600.3,580.8 C598.8,577.2 598.4,573.6 599.7,569.9 C600.9,566.7 602.8,564.4 605.7,562.7 C608.9,560.9 612.3,561.9 616,561.5" stroke="#aec3d0" stroke-width="4.3"/><path d="M672.3,560.2 C669.2,562 666.5,562.9 663.8,565.1 C659.9,568.2 658.3,572 655.3,576 C652.7,579.4 651.3,582.7 648.1,585.6 C645.1,588.4 642.3,590.3 638.4,591.7 C633.5,593.5 629.1,593.2 623.9,592.9 C618.1,592.5 613,592.5 608.1,589.3 C604.6,587 601.9,584.6 600.3,580.8 C598.8,577.2 598.4,573.6 599.7,569.9 C600.9,566.7 602.8,564.4 605.7,562.7 C608.9,560.9 612.3,561.9 616,561.5" stroke="#dde7ec" stroke-width="2.3"/></g>
<path d="M617.2,554.2 L631.7,552.4 L632.3,557.2 L636.6,557.2 L636.6,551.8 L652.9,550 L656.5,553 L656.5,568.7 L652.9,573.5 L646.9,572.9 L646.9,569.3 L640.8,569.3 L640.8,572.3 L623.9,573.5 L622.1,570.5 L617.2,566.3Z" fill="#5f8097" stroke="#0f1a23" stroke-width="1.4" stroke-linejoin="round"/>
<path d="M611.8,546.9 L616,546.3 L619,548.7 L631.1,547.5 L631.7,552.4 L617.2,554.2Z" fill="#b5c8d3" stroke="#0f1a23" stroke-width="1.2" stroke-linejoin="round"/>
<path d="M633.5,547.5 L651.7,545.7 L656.3,549.6 L656.5,553 L652.9,550 L636.6,551.8Z" fill="#b5c8d3" stroke="#0f1a23" stroke-width="1.2" stroke-linejoin="round"/>
<path d="M611.8,546.9 L617.2,554.2 L617.2,566.3 L614.8,565.3 L612,554.8Z" fill="#a3b9c6" stroke="#0f1a23" stroke-width="1.2" stroke-linejoin="round"/>
<g fill="none" stroke-linecap="butt" stroke-linejoin="round"><path d="M586,787 C587.5,783 588.7,780 590.2,776 C593.7,766.8 595.2,759 600.3,750.6 C605.9,741.4 611.6,734.5 620.5,728.4 C630.1,721.9 639.3,719.5 650.7,717.3 C661.4,715.3 670.1,715.8 681,716.3 C689.7,716.7 696.4,718 705,719" stroke="#0f1a23" stroke-width="11"/><path d="M586,787 C587.5,783 588.7,780 590.2,776 C593.7,766.8 595.2,759 600.3,750.6 C605.9,741.4 611.6,734.5 620.5,728.4 C630.1,721.9 639.3,719.5 650.7,717.3 C661.4,715.3 670.1,715.8 681,716.3 C689.7,716.7 696.4,718 705,719" stroke="#7f9db1" stroke-width="7.8"/><path d="M586,787 C587.5,783 588.7,780 590.2,776 C593.7,766.8 595.2,759 600.3,750.6 C605.9,741.4 611.6,734.5 620.5,728.4 C630.1,721.9 639.3,719.5 650.7,717.3 C661.4,715.3 670.1,715.8 681,716.3 C689.7,716.7 696.4,718 705,719" stroke="#aec3d0" stroke-width="5.3"/><path d="M586,787 C587.5,783 588.7,780 590.2,776 C593.7,766.8 595.2,759 600.3,750.6 C605.9,741.4 611.6,734.5 620.5,728.4 C630.1,721.9 639.3,719.5 650.7,717.3 C661.4,715.3 670.1,715.8 681,716.3 C689.7,716.7 696.4,718 705,719" stroke="#dde7ec" stroke-width="2.8"/></g>
<g fill="none" stroke-linecap="butt" stroke-linejoin="round"><path d="M673.5,858 C673.3,844.7 672.6,834.4 673,821.1 C673.5,805.1 674,792.5 677,776.8 C679.1,765.5 679.8,756.2 685,746 C688.2,739.8 689.8,733.3 696,730 C699.6,728.1 703,726.9 707,727.5 C712.9,728.4 714.9,734.5 719.3,738.5" stroke="#0f1a23" stroke-width="9"/><path d="M673.5,858 C673.3,844.7 672.6,834.4 673,821.1 C673.5,805.1 674,792.5 677,776.8 C679.1,765.5 679.8,756.2 685,746 C688.2,739.8 689.8,733.3 696,730 C699.6,728.1 703,726.9 707,727.5 C712.9,728.4 714.9,734.5 719.3,738.5" stroke="#7f9db1" stroke-width="5.8"/><path d="M673.5,858 C673.3,844.7 672.6,834.4 673,821.1 C673.5,805.1 674,792.5 677,776.8 C679.1,765.5 679.8,756.2 685,746 C688.2,739.8 689.8,733.3 696,730 C699.6,728.1 703,726.9 707,727.5 C712.9,728.4 714.9,734.5 719.3,738.5" stroke="#aec3d0" stroke-width="3.9"/><path d="M673.5,858 C673.3,844.7 672.6,834.4 673,821.1 C673.5,805.1 674,792.5 677,776.8 C679.1,765.5 679.8,756.2 685,746 C688.2,739.8 689.8,733.3 696,730 C699.6,728.1 703,726.9 707,727.5 C712.9,728.4 714.9,734.5 719.3,738.5" stroke="#dde7ec" stroke-width="2.1"/></g>
<g fill="none" stroke-linecap="butt" stroke-linejoin="round"><path d="M665.5,858 C665.1,844.7 664.2,834.4 664.5,821.1 C664.9,805.1 665.7,792.6 668.5,776.8 C670.7,764.5 671.5,754.3 677,743 C680.7,735.4 682.6,727.5 690.1,723.4 C694.7,720.9 699.1,719.6 704.2,720.4 C712.1,721.6 715,729.7 721,735" stroke="#0f1a23" stroke-width="9"/><path d="M665.5,858 C665.1,844.7 664.2,834.4 664.5,821.1 C664.9,805.1 665.7,792.6 668.5,776.8 C670.7,764.5 671.5,754.3 677,743 C680.7,735.4 682.6,727.5 690.1,723.4 C694.7,720.9 699.1,719.6 704.2,720.4 C712.1,721.6 715,729.7 721,735" stroke="#7f9db1" stroke-width="5.8"/><path d="M665.5,858 C665.1,844.7 664.2,834.4 664.5,821.1 C664.9,805.1 665.7,792.6 668.5,776.8 C670.7,764.5 671.5,754.3 677,743 C680.7,735.4 682.6,727.5 690.1,723.4 C694.7,720.9 699.1,719.6 704.2,720.4 C712.1,721.6 715,729.7 721,735" stroke="#aec3d0" stroke-width="3.9"/><path d="M665.5,858 C665.1,844.7 664.2,834.4 664.5,821.1 C664.9,805.1 665.7,792.6 668.5,776.8 C670.7,764.5 671.5,754.3 677,743 C680.7,735.4 682.6,727.5 690.1,723.4 C694.7,720.9 699.1,719.6 704.2,720.4 C712.1,721.6 715,729.7 721,735" stroke="#dde7ec" stroke-width="2.1"/></g>
<path d="M517.2,787.7 L518.9,787.2 L521.6,789.4 L541.6,775.5 L541.6,773.3 L548.2,777.7 L551.6,776.1 L557.1,778.3 L565.4,772.8 L566.5,770.5 L572.6,770.5 L599.3,786.1 L599.8,812.1 L585.9,817.7 L584.8,825.4 L576,828.8 L567.1,831 L565.4,836.5 L562.7,839.3 L550.5,834.3 L544.9,833.7 L545.5,831 L532.7,823.2 L531.6,825.4 L526.6,821.5 L526.1,818.8 L517.2,813.2Z" fill="#7f9cb0" stroke="#0f1a23" stroke-width="1.6" stroke-linejoin="round"/>
<path d="M526.6,792.2 L557.1,808.8 L555.5,812.1 L559.9,815.4 L560.4,836.5 L550.5,834.3 L544.9,833.7 L545.5,831 L532.7,823.2 L526.6,817.7Z" fill="#5d7d94" stroke="#0f1a23" stroke-width="1" stroke-linejoin="round"/>
<path d="M534.4,821.5 L549.4,811.6 L559.3,815.4 L559.9,827.6 L547.7,829.3Z" fill="#a9bfcc" stroke="#0f1a23" stroke-width="1" stroke-linejoin="round"/>
<path d="M547.7,829.3 L552.7,826.5 L559.9,831 L560.4,836.5 L550.5,834.3Z" fill="#8fa9ba" stroke="#0f1a23" stroke-width="1" stroke-linejoin="round"/>
<path d="M526.6,812.1 L543.3,802.7 L547.1,804.4 L530.5,815.4Z" fill="#8aa5b6" stroke="#0f1a23" stroke-width="1" stroke-linejoin="round"/>
<path d="M517.2,787.7 L526.6,792.2 L526.6,815.4 L517.2,813.2Z" fill="#86a1b3" stroke="#0f1a23" stroke-width="1.1" stroke-linejoin="round"/>
<path d="M521.6,793.3 L526.6,795.5 L526.6,812.1 L521.6,809.9Z" fill="#5d7d94" stroke="#0f1a23" stroke-width="1" stroke-linejoin="round"/>
<path d="M557.1,808.8 L576,798.3 L584.3,795.5 L584.3,803.8 L576,807.1 L565.4,811 L562.7,813.2 L555.5,811Z" fill="#8ea8b9" stroke="#0f1a23" stroke-width="1.1" stroke-linejoin="round"/>
<path d="M526.6,792.2 L544.4,780 L576,798.3 L557.1,808.8Z" fill="#b5c8d3" stroke="#0f1a23" stroke-width="1.1" stroke-linejoin="round"/>
<path d="M558.2,780 L570.4,771.6 L597,786.6 L584.3,795.5Z" fill="#b5c8d3" stroke="#0f1a23" stroke-width="1.1" stroke-linejoin="round"/>
<path d="M544.4,780 L551.6,776.6 L558.2,780 L584.3,795.5 L576,798.3Z" fill="#8ea8b9" stroke="#0f1a23" stroke-width="1.1" stroke-linejoin="round"/>
<path d="M584.3,795.5 L599.3,786.6 L599.8,812.1 L585.9,817.7Z" fill="#5f8097" stroke="#0f1a23" stroke-width="1.1" stroke-linejoin="round"/>
<path d="M555.5,811 L562.7,813.2 L565.4,811 L565.4,836.5 L562.7,839.3 L560.4,836.5 L559.9,815.4 L555.5,812.1Z" fill="#9db5c3" stroke="#0f1a23" stroke-width="1.1" stroke-linejoin="round"/>
<path d="M565.4,811 L576,807.1 L576,828.8 L567.1,831 L565.4,836.5Z" fill="#64849a" stroke="#0f1a23" stroke-width="1.1" stroke-linejoin="round"/>
<path d="M576,807.1 L584.3,803.8 L585.9,817.7 L584.8,825.4 L576,828.8Z" fill="#5f8097" stroke="#0f1a23" stroke-width="1.1" stroke-linejoin="round"/>
<path d="M566.0,818.8 L576.0,814.9 M566.0,822.7 L576.0,818.8 M570.4,809.9 L570.4,829.9" fill="none" stroke="#0f1a23" stroke-width="1" stroke-linejoin="round" stroke-linecap="round" />
<path d="M648.9,868.4 L654.2,859.4 L693.4,855.4 L697.2,862.7 L693.7,864.2 L695.9,884.8 L653.9,888.4 L652.2,867.8Z" fill="#7f9db1" stroke="#0f1a23" stroke-width="1.5" stroke-linejoin="round"/>
<path d="M648.9,868.4 L654.2,859.4 L657,860.8 L658.8,887.2 L653.9,888.4 L652.2,867.8Z" fill="#9ab3c2" stroke="#0f1a23" stroke-width="1" stroke-linejoin="round"/>
<path d="M650.1,890.7 L653.6,888.4 L696.2,884.8 L699.5,885.3 L699,889 L651.8,895.8Z" fill="#7493a8" stroke="#0f1a23" stroke-width="1.3" stroke-linejoin="round"/>
<path d="M665.2,934.4 L666.6,936.5 L682.1,935.1 L683.5,932.7Z" fill="#5f8097" stroke="#0f1a23" stroke-width="1.1" stroke-linejoin="round"/>
<path d="M644.4,901.5 L649.6,896 L707.5,892.1 L711,926.2 L703.5,930.5 L646.1,936.1Z" fill="#6a8ba2" stroke="#0f1a23" stroke-width="1.5" stroke-linejoin="round"/>
<path d="M644.4,901.5 L649.6,896 L651.8,930.9 L646.1,936.1Z" fill="#7f9db1" stroke="#0f1a23" stroke-width="1" stroke-linejoin="round"/>
<path d="M646.1,936.1 L651.8,930.9 L710.3,924.8 L711,926.2 L703.5,930.5Z" fill="#587990" stroke="#0f1a23" stroke-width="1" stroke-linejoin="round"/>
<path d="M660.9,895.2 L664.0,929.5 M670.1,894.6 L673.2,928.8 M686.3,893.5 L690.1,927.4 M695.5,892.9 L699.3,926.5" fill="none" stroke="#0f1a23" stroke-width="1.1" stroke-linejoin="round" stroke-linecap="round" />
<path d="M219.5,756.3 L223.1,747.7 L255.8,745.4 L260.4,742.7 L264.4,742.3 L264.9,759.9 L261.3,765.4 L258.5,766.3 L255.4,772.6 L233.1,774.5 L231.8,777.2 L222.2,777.2Z" fill="#7894a8" stroke="#0f1a23" stroke-width="1.6" stroke-linejoin="round"/>
<path d="M223.1,748.2 L255.8,745.9 L258,746 L258.5,760.5 L225.5,762.5 L222,757Z" fill="#a9bfcc" stroke="#0f1a23" stroke-width="0" stroke-linejoin="round"/>
<path d="M225.5,763.6 L236,762.5 L232.5,774 L224,775Z" fill="#5f8097" stroke="#0f1a23" stroke-width="1" stroke-linejoin="round"/>
<path d="M238,764.5 L257,765 L255,771.8 L235.5,773.2Z" fill="#5f8097" stroke="#0f1a23" stroke-width="1" stroke-linejoin="round"/>
<path d="M258.1,745 L260.4,742.7 L264.4,742.3 L264.9,759.9 L261.3,765.4 L258.6,765.8Z" fill="#b4c7d2" stroke="#0f1a23" stroke-width="1.1" stroke-linejoin="round"/>
<path d="M226,751 l5,-0.5 l2,1.5 l6,-2 M226.5,757.5 l12,-1.5 q4,-2 3,-7 M246.5,749.5 l8.5,-0.6 l0.3,5.5 l-8.6,0.6 Z M226,760.5 l29,-2.5" fill="none" stroke="#0f1a23" stroke-width="1" stroke-linejoin="round" stroke-linecap="round" />
<path d="M227.5,753.8 l9,-1.5 M247.5,752.3 l6.5,-0.5" fill="none" stroke="#eef3f6" stroke-width="1.6" stroke-linejoin="round" stroke-linecap="round" />
<path d="M334.7,906.6 L339.5,900.2 L361.3,898.5 L368.5,894.2 L369.4,901 L372.6,931.6 L339.5,937.3 L337.9,928.4Z" fill="#7b98ac" stroke="#0f1a23" stroke-width="1.5" stroke-linejoin="round"/>
<path d="M339.5,900.6 L355.6,899.4 L357.7,929.2 L340.3,932.4Z" fill="#7391a6" stroke="#0f1a23" stroke-width="1" stroke-linejoin="round"/>
<path d="M355.6,899.4 L361.3,898.5 L368.5,894.2 L369.4,901 L372.6,928.4 L357.7,929.2Z" fill="#8ba6b7" stroke="#0f1a23" stroke-width="1" stroke-linejoin="round"/>
<path d="M340.3,932.4 L357.7,929.2 L372.6,928.4 L372.6,931.6 L339.5,937.3Z" fill="#5f8097" stroke="#0f1a23" stroke-width="1" stroke-linejoin="round"/>
<path d="M409.7,1042.9 L418.5,1040.5 L419.4,1042.9 L437.1,1041.3 L441.9,1047.7 L441.9,1057.4 L416.1,1061.5 L412.1,1057.4Z" fill="#7f9cb0" stroke="#0f1a23" stroke-width="1.5" stroke-linejoin="round"/>
<path d="M409.7,1042.9 L418.5,1040.5 L419.4,1042.9 L437.1,1041.3 L441.9,1047.7 L414.5,1050.2Z" fill="#b5c8d3" stroke="#0f1a23" stroke-width="1" stroke-linejoin="round"/>
<path d="M414.5,1050.2 L441.9,1047.7 L441.9,1057.4 L416.1,1061.5Z" fill="#64849a" stroke="#0f1a23" stroke-width="1" stroke-linejoin="round"/>
<path d="M866.2,774 L870.5,771.2 L881.1,770.8 L881.4,769.1 L895.2,768.7 L896.2,779.6 L891.6,780 L891.3,781.4 L894.8,783.2 L894.8,791 L880,789 L870,781Z" fill="#a3b9c6" stroke="#0f1a23" stroke-width="1.5" stroke-linejoin="round"/>
<path d="M871.5,771.5 L871.5,780 M877.2,771.2 L877.2,783 M877.2,771.6 L884.6,772.6 L885.6,779.6 L883.9,782.5" fill="none" stroke="#0f1a23" stroke-width="1.2" stroke-linejoin="round" stroke-linecap="round" />
<g fill="none" stroke-linecap="butt" stroke-linejoin="round"><path d="M814.2,366 C815.1,374.1 815.6,380.3 816.6,388.4 C817.9,399.3 819.2,407.7 820.8,418.6 C823.8,439.5 826.2,455.7 829.5,476.6 C832.5,495.7 834.7,510.6 838.4,529.6 C840.9,542.4 844,552.1 846,564.9 C848.5,581 848.6,593.7 849.5,609.9 C850.4,626.1 850.9,638.7 851,654.9 C851.1,671.1 850.5,683.6 850,699.8 C849.7,710.6 848.6,718.9 849,729.7 C849.4,740.5 848.7,749.5 852.5,759.6 C854.9,765.9 859.3,769.7 861.7,776 C864.8,784.2 864,791.5 866,800 C868.3,809.5 870.5,816.9 874,826 C877.4,834.9 881.5,841.2 885,850 C887.6,856.4 889.7,861.3 891.5,868 C893,873.7 893.6,878.2 894.5,884 C895.3,889 895.7,893 896.3,898" stroke="#0f1a23" stroke-width="9"/><path d="M814.2,366 C815.1,374.1 815.6,380.3 816.6,388.4 C817.9,399.3 819.2,407.7 820.8,418.6 C823.8,439.5 826.2,455.7 829.5,476.6 C832.5,495.7 834.7,510.6 838.4,529.6 C840.9,542.4 844,552.1 846,564.9 C848.5,581 848.6,593.7 849.5,609.9 C850.4,626.1 850.9,638.7 851,654.9 C851.1,671.1 850.5,683.6 850,699.8 C849.7,710.6 848.6,718.9 849,729.7 C849.4,740.5 848.7,749.5 852.5,759.6 C854.9,765.9 859.3,769.7 861.7,776 C864.8,784.2 864,791.5 866,800 C868.3,809.5 870.5,816.9 874,826 C877.4,834.9 881.5,841.2 885,850 C887.6,856.4 889.7,861.3 891.5,868 C893,873.7 893.6,878.2 894.5,884 C895.3,889 895.7,893 896.3,898" stroke="#7f9db1" stroke-width="5.8"/><path d="M814.2,366 C815.1,374.1 815.6,380.3 816.6,388.4 C817.9,399.3 819.2,407.7 820.8,418.6 C823.8,439.5 826.2,455.7 829.5,476.6 C832.5,495.7 834.7,510.6 838.4,529.6 C840.9,542.4 844,552.1 846,564.9 C848.5,581 848.6,593.7 849.5,609.9 C850.4,626.1 850.9,638.7 851,654.9 C851.1,671.1 850.5,683.6 850,699.8 C849.7,710.6 848.6,718.9 849,729.7 C849.4,740.5 848.7,749.5 852.5,759.6 C854.9,765.9 859.3,769.7 861.7,776 C864.8,784.2 864,791.5 866,800 C868.3,809.5 870.5,816.9 874,826 C877.4,834.9 881.5,841.2 885,850 C887.6,856.4 889.7,861.3 891.5,868 C893,873.7 893.6,878.2 894.5,884 C895.3,889 895.7,893 896.3,898" stroke="#aec3d0" stroke-width="3.9"/><path d="M814.2,366 C815.1,374.1 815.6,380.3 816.6,388.4 C817.9,399.3 819.2,407.7 820.8,418.6 C823.8,439.5 826.2,455.7 829.5,476.6 C832.5,495.7 834.7,510.6 838.4,529.6 C840.9,542.4 844,552.1 846,564.9 C848.5,581 848.6,593.7 849.5,609.9 C850.4,626.1 850.9,638.7 851,654.9 C851.1,671.1 850.5,683.6 850,699.8 C849.7,710.6 848.6,718.9 849,729.7 C849.4,740.5 848.7,749.5 852.5,759.6 C854.9,765.9 859.3,769.7 861.7,776 C864.8,784.2 864,791.5 866,800 C868.3,809.5 870.5,816.9 874,826 C877.4,834.9 881.5,841.2 885,850 C887.6,856.4 889.7,861.3 891.5,868 C893,873.7 893.6,878.2 894.5,884 C895.3,889 895.7,893 896.3,898" stroke="#dde7ec" stroke-width="2.1"/></g>
<g fill="none" stroke-linecap="butt" stroke-linejoin="round"><path d="M814,372 C812.6,367.9 814.1,359 810,360.5 C807.2,361.5 807.3,365.2 806.3,368 C803.8,374.9 805.7,381.1 805.1,388.4 C804.3,399.3 803.2,407.7 802.1,418.6 C800.4,435 798.8,447.6 797.1,464 C795.6,479.1 793.2,490.9 793.2,506.1 C793.2,520.2 794.1,531.2 796.5,545 C798.7,557.8 801.8,567.5 805.5,580 C808.7,590.9 812.1,599.1 815.5,609.9 C820.5,626 824.1,638.6 828.3,654.9 C832.4,671 834.8,683.7 838.5,699.8 C841,710.6 843.6,718.8 845.5,729.7 C847.7,742.3 848.4,752.3 849.3,765 C849.9,773.4 849.5,780 850.5,788.4 C851.3,795 852,800.1 853.5,806.5 C855.7,815.5 857.8,822.5 862,830.7 C865.6,837.7 869.5,842.5 874.1,848.9 C877.1,853 880,855.7 882.6,860 C885,864.1 886.1,867.7 888,872" stroke="#0f1a23" stroke-width="9"/><path d="M814,372 C812.6,367.9 814.1,359 810,360.5 C807.2,361.5 807.3,365.2 806.3,368 C803.8,374.9 805.7,381.1 805.1,388.4 C804.3,399.3 803.2,407.7 802.1,418.6 C800.4,435 798.8,447.6 797.1,464 C795.6,479.1 793.2,490.9 793.2,506.1 C793.2,520.2 794.1,531.2 796.5,545 C798.7,557.8 801.8,567.5 805.5,580 C808.7,590.9 812.1,599.1 815.5,609.9 C820.5,626 824.1,638.6 828.3,654.9 C832.4,671 834.8,683.7 838.5,699.8 C841,710.6 843.6,718.8 845.5,729.7 C847.7,742.3 848.4,752.3 849.3,765 C849.9,773.4 849.5,780 850.5,788.4 C851.3,795 852,800.1 853.5,806.5 C855.7,815.5 857.8,822.5 862,830.7 C865.6,837.7 869.5,842.5 874.1,848.9 C877.1,853 880,855.7 882.6,860 C885,864.1 886.1,867.7 888,872" stroke="#7f9db1" stroke-width="5.8"/><path d="M814,372 C812.6,367.9 814.1,359 810,360.5 C807.2,361.5 807.3,365.2 806.3,368 C803.8,374.9 805.7,381.1 805.1,388.4 C804.3,399.3 803.2,407.7 802.1,418.6 C800.4,435 798.8,447.6 797.1,464 C795.6,479.1 793.2,490.9 793.2,506.1 C793.2,520.2 794.1,531.2 796.5,545 C798.7,557.8 801.8,567.5 805.5,580 C808.7,590.9 812.1,599.1 815.5,609.9 C820.5,626 824.1,638.6 828.3,654.9 C832.4,671 834.8,683.7 838.5,699.8 C841,710.6 843.6,718.8 845.5,729.7 C847.7,742.3 848.4,752.3 849.3,765 C849.9,773.4 849.5,780 850.5,788.4 C851.3,795 852,800.1 853.5,806.5 C855.7,815.5 857.8,822.5 862,830.7 C865.6,837.7 869.5,842.5 874.1,848.9 C877.1,853 880,855.7 882.6,860 C885,864.1 886.1,867.7 888,872" stroke="#aec3d0" stroke-width="3.9"/><path d="M814,372 C812.6,367.9 814.1,359 810,360.5 C807.2,361.5 807.3,365.2 806.3,368 C803.8,374.9 805.7,381.1 805.1,388.4 C804.3,399.3 803.2,407.7 802.1,418.6 C800.4,435 798.8,447.6 797.1,464 C795.6,479.1 793.2,490.9 793.2,506.1 C793.2,520.2 794.1,531.2 796.5,545 C798.7,557.8 801.8,567.5 805.5,580 C808.7,590.9 812.1,599.1 815.5,609.9 C820.5,626 824.1,638.6 828.3,654.9 C832.4,671 834.8,683.7 838.5,699.8 C841,710.6 843.6,718.8 845.5,729.7 C847.7,742.3 848.4,752.3 849.3,765 C849.9,773.4 849.5,780 850.5,788.4 C851.3,795 852,800.1 853.5,806.5 C855.7,815.5 857.8,822.5 862,830.7 C865.6,837.7 869.5,842.5 874.1,848.9 C877.1,853 880,855.7 882.6,860 C885,864.1 886.1,867.7 888,872" stroke="#dde7ec" stroke-width="2.1"/></g>
<path d="M802.7,383.5 L820.2,377.5 L821.4,375.1 L825,372.7 L830.5,373.9 L832.3,378.7 L829.3,384.8 L834.1,408.9 L808.7,416.2Z" fill="#7f9cb0" stroke="#0f1a23" stroke-width="1.5" stroke-linejoin="round"/>
<path d="M802.7,383.5 L820.2,377.5 L826.9,411.4 L808.7,416.2Z" fill="#7391a6" stroke="#0f1a23" stroke-width="1" stroke-linejoin="round"/>
<path d="M820.2,377.5 L829.3,384.8 L834.1,408.9 L826.9,411.4Z" fill="#86a1b3" stroke="#0f1a23" stroke-width="1" stroke-linejoin="round"/>
<path d="M820.2,377.5 L821.4,375.1 L825,372.7 L830.5,373.9 L832.3,378.7 L829.3,384.8 L823.2,382.3Z" fill="#7f9cb0" stroke="#0f1a23" stroke-width="1.1" stroke-linejoin="round"/>
<path d="M809.9,381.7 L814.2,414.4 M815.4,379.9 L819.6,413.2 M823.2,382.9 L825.0,411.4" fill="none" stroke="#0f1a23" stroke-width="1" stroke-linejoin="round" stroke-linecap="round" />
<g fill="none" stroke-linecap="butt" stroke-linejoin="round"><path d="M812.6,803 C814.6,812.6 815.9,820.2 818.1,829.8 C821,842.9 824.1,853 827.2,866.1 C829.9,877.6 831.8,886.5 834.4,898" stroke="#0f1a23" stroke-width="10"/><path d="M812.6,803 C814.6,812.6 815.9,820.2 818.1,829.8 C821,842.9 824.1,853 827.2,866.1 C829.9,877.6 831.8,886.5 834.4,898" stroke="#7f9db1" stroke-width="6.8"/><path d="M812.6,803 C814.6,812.6 815.9,820.2 818.1,829.8 C821,842.9 824.1,853 827.2,866.1 C829.9,877.6 831.8,886.5 834.4,898" stroke="#aec3d0" stroke-width="4.6"/><path d="M812.6,803 C814.6,812.6 815.9,820.2 818.1,829.8 C821,842.9 824.1,853 827.2,866.1 C829.9,877.6 831.8,886.5 834.4,898" stroke="#dde7ec" stroke-width="2.4"/></g>
<path d="M820.6,898.9 L844,896.5 L844.8,898.9 L852.1,898.1 L852.9,902.1 L855.3,902.1 L854.5,907.7 L852.1,908.5 L852.1,943.2 L846.5,944 L826.3,946.5 L823.1,903.7 L821.5,903.7Z" fill="#7f9cb0" stroke="#0f1a23" stroke-width="1.5" stroke-linejoin="round"/>
<path d="M823.1,903.2 L845.6,902.1 L846.5,944 L826.3,946.5Z" fill="#7f9cb0" stroke="#0f1a23" stroke-width="1.1" stroke-linejoin="round"/>
<path d="M845.6,902.1 L852.1,901.3 L852.1,943.2 L846.5,944Z" fill="#5f8097" stroke="#0f1a23" stroke-width="1.1" stroke-linejoin="round"/>
<path d="M820.6,898.9 L844,896.5 L845.6,902.1 L821.5,904Z" fill="#9db5c3" stroke="#0f1a23" stroke-width="1.1" stroke-linejoin="round"/>
<path d="M823.9,923.1 L846.1,921.5 M847.3,907.7 L854.5,906.9" fill="none" stroke="#0f1a23" stroke-width="1.1" stroke-linejoin="round" stroke-linecap="round" />
<g fill="none" stroke-linecap="butt" stroke-linejoin="round"><path d="M820,790 C822.1,786.4 823.4,783.4 825.7,779.9 C828.5,775.6 830,771.4 834.2,768.5 C838,765.9 841.8,764.6 846.3,764.8 C851.1,765.1 854.2,768 858.4,770.2 C861.5,771.8 863.9,773.2 866.9,775.1 C872.8,778.7 876.9,782.2 882.6,786 C889,790.3 895.2,792.1 900.7,797.5 C907,803.7 910.7,810.2 913.5,818.6 C916.3,826.9 916.9,834.1 916,842.8 C915.4,849.2 913.2,853.8 911.6,860" stroke="#0f1a23" stroke-width="12.5"/><path d="M820,790 C822.1,786.4 823.4,783.4 825.7,779.9 C828.5,775.6 830,771.4 834.2,768.5 C838,765.9 841.8,764.6 846.3,764.8 C851.1,765.1 854.2,768 858.4,770.2 C861.5,771.8 863.9,773.2 866.9,775.1 C872.8,778.7 876.9,782.2 882.6,786 C889,790.3 895.2,792.1 900.7,797.5 C907,803.7 910.7,810.2 913.5,818.6 C916.3,826.9 916.9,834.1 916,842.8 C915.4,849.2 913.2,853.8 911.6,860" stroke="#83a2b6" stroke-width="9.3"/><path d="M820,790 C822.1,786.4 823.4,783.4 825.7,779.9 C828.5,775.6 830,771.4 834.2,768.5 C838,765.9 841.8,764.6 846.3,764.8 C851.1,765.1 854.2,768 858.4,770.2 C861.5,771.8 863.9,773.2 866.9,775.1 C872.8,778.7 876.9,782.2 882.6,786 C889,790.3 895.2,792.1 900.7,797.5 C907,803.7 910.7,810.2 913.5,818.6 C916.3,826.9 916.9,834.1 916,842.8 C915.4,849.2 913.2,853.8 911.6,860" stroke="#cfdce4" stroke-width="7.4"/><path d="M820,790 C822.1,786.4 823.4,783.4 825.7,779.9 C828.5,775.6 830,771.4 834.2,768.5 C838,765.9 841.8,764.6 846.3,764.8 C851.1,765.1 854.2,768 858.4,770.2 C861.5,771.8 863.9,773.2 866.9,775.1 C872.8,778.7 876.9,782.2 882.6,786 C889,790.3 895.2,792.1 900.7,797.5 C907,803.7 910.7,810.2 913.5,818.6 C916.3,826.9 916.9,834.1 916,842.8 C915.4,849.2 913.2,853.8 911.6,860" stroke="#dbe5eb" stroke-width="4.7"/><path d="M820,790 C822.1,786.4 823.4,783.4 825.7,779.9 C828.5,775.6 830,771.4 834.2,768.5 C838,765.9 841.8,764.6 846.3,764.8 C851.1,765.1 854.2,768 858.4,770.2 C861.5,771.8 863.9,773.2 866.9,775.1 C872.8,778.7 876.9,782.2 882.6,786 C889,790.3 895.2,792.1 900.7,797.5 C907,803.7 910.7,810.2 913.5,818.6 C916.3,826.9 916.9,834.1 916,842.8 C915.4,849.2 913.2,853.8 911.6,860" stroke="url(#dots)" stroke-width="6.9"/></g>
<path d="M905,857.5 L918.5,862" fill="none" stroke="#0f1a23" stroke-width="1.3" stroke-linejoin="round" stroke-linecap="round" />
<g fill="none" stroke-linecap="butt" stroke-linejoin="round"><path d="M880,853 C882.2,857.7 883.9,861.3 886,866 C888.4,871.5 890.7,875.6 892.5,881.3 C895.4,890.2 895.1,897.8 896.8,907 C897.9,913.2 898.3,918.1 900.2,924.1 C901,926.7 900.8,929.3 902.8,931.2 C903.6,931.9 904.2,932.8 905.3,932.8 C906.8,932.8 907.2,931 908,929.8 C910.1,926.7 909.9,923.5 910.5,919.8 C911.8,912.2 911.1,906.1 910.8,898.4 C910.5,889.2 909.4,882 908.5,872.8 C908,867.5 907.5,863.3 907,858" stroke="#0f1a23" stroke-width="12.5"/><path d="M880,853 C882.2,857.7 883.9,861.3 886,866 C888.4,871.5 890.7,875.6 892.5,881.3 C895.4,890.2 895.1,897.8 896.8,907 C897.9,913.2 898.3,918.1 900.2,924.1 C901,926.7 900.8,929.3 902.8,931.2 C903.6,931.9 904.2,932.8 905.3,932.8 C906.8,932.8 907.2,931 908,929.8 C910.1,926.7 909.9,923.5 910.5,919.8 C911.8,912.2 911.1,906.1 910.8,898.4 C910.5,889.2 909.4,882 908.5,872.8 C908,867.5 907.5,863.3 907,858" stroke="#83a2b6" stroke-width="9.3"/><path d="M880,853 C882.2,857.7 883.9,861.3 886,866 C888.4,871.5 890.7,875.6 892.5,881.3 C895.4,890.2 895.1,897.8 896.8,907 C897.9,913.2 898.3,918.1 900.2,924.1 C901,926.7 900.8,929.3 902.8,931.2 C903.6,931.9 904.2,932.8 905.3,932.8 C906.8,932.8 907.2,931 908,929.8 C910.1,926.7 909.9,923.5 910.5,919.8 C911.8,912.2 911.1,906.1 910.8,898.4 C910.5,889.2 909.4,882 908.5,872.8 C908,867.5 907.5,863.3 907,858" stroke="#cfdce4" stroke-width="7.4"/><path d="M880,853 C882.2,857.7 883.9,861.3 886,866 C888.4,871.5 890.7,875.6 892.5,881.3 C895.4,890.2 895.1,897.8 896.8,907 C897.9,913.2 898.3,918.1 900.2,924.1 C901,926.7 900.8,929.3 902.8,931.2 C903.6,931.9 904.2,932.8 905.3,932.8 C906.8,932.8 907.2,931 908,929.8 C910.1,926.7 909.9,923.5 910.5,919.8 C911.8,912.2 911.1,906.1 910.8,898.4 C910.5,889.2 909.4,882 908.5,872.8 C908,867.5 907.5,863.3 907,858" stroke="#dbe5eb" stroke-width="4.7"/><path d="M880,853 C882.2,857.7 883.9,861.3 886,866 C888.4,871.5 890.7,875.6 892.5,881.3 C895.4,890.2 895.1,897.8 896.8,907 C897.9,913.2 898.3,918.1 900.2,924.1 C901,926.7 900.8,929.3 902.8,931.2 C903.6,931.9 904.2,932.8 905.3,932.8 C906.8,932.8 907.2,931 908,929.8 C910.1,926.7 909.9,923.5 910.5,919.8 C911.8,912.2 911.1,906.1 910.8,898.4 C910.5,889.2 909.4,882 908.5,872.8 C908,867.5 907.5,863.3 907,858" stroke="url(#dots)" stroke-width="6.9"/></g>
<g fill="none" stroke-linecap="butt" stroke-linejoin="round"><path d="M822,794 C824.2,791.6 825.7,789.4 828.1,787.2 C832,783.6 835.1,780.4 840.2,778.7 C845.6,776.9 850.5,777.3 856,778.7 C860.7,779.9 864.3,781.8 868.1,784.8 C872.5,788.2 874.7,792.2 877.7,796.9 C881,802.2 882.5,806.9 885,812.6 C887.8,819 889.7,824.2 892.3,830.7 C894.9,837.2 896.7,842.4 899.5,848.9 C901.4,853.3 903.4,856.5 905,861 C906.5,865.2 906.9,868.7 908,873" stroke="#0f1a23" stroke-width="11.5"/><path d="M822,794 C824.2,791.6 825.7,789.4 828.1,787.2 C832,783.6 835.1,780.4 840.2,778.7 C845.6,776.9 850.5,777.3 856,778.7 C860.7,779.9 864.3,781.8 868.1,784.8 C872.5,788.2 874.7,792.2 877.7,796.9 C881,802.2 882.5,806.9 885,812.6 C887.8,819 889.7,824.2 892.3,830.7 C894.9,837.2 896.7,842.4 899.5,848.9 C901.4,853.3 903.4,856.5 905,861 C906.5,865.2 906.9,868.7 908,873" stroke="#83a2b6" stroke-width="8.3"/><path d="M822,794 C824.2,791.6 825.7,789.4 828.1,787.2 C832,783.6 835.1,780.4 840.2,778.7 C845.6,776.9 850.5,777.3 856,778.7 C860.7,779.9 864.3,781.8 868.1,784.8 C872.5,788.2 874.7,792.2 877.7,796.9 C881,802.2 882.5,806.9 885,812.6 C887.8,819 889.7,824.2 892.3,830.7 C894.9,837.2 896.7,842.4 899.5,848.9 C901.4,853.3 903.4,856.5 905,861 C906.5,865.2 906.9,868.7 908,873" stroke="#cfdce4" stroke-width="6.6"/><path d="M822,794 C824.2,791.6 825.7,789.4 828.1,787.2 C832,783.6 835.1,780.4 840.2,778.7 C845.6,776.9 850.5,777.3 856,778.7 C860.7,779.9 864.3,781.8 868.1,784.8 C872.5,788.2 874.7,792.2 877.7,796.9 C881,802.2 882.5,806.9 885,812.6 C887.8,819 889.7,824.2 892.3,830.7 C894.9,837.2 896.7,842.4 899.5,848.9 C901.4,853.3 903.4,856.5 905,861 C906.5,865.2 906.9,868.7 908,873" stroke="#dbe5eb" stroke-width="4.2"/><path d="M822,794 C824.2,791.6 825.7,789.4 828.1,787.2 C832,783.6 835.1,780.4 840.2,778.7 C845.6,776.9 850.5,777.3 856,778.7 C860.7,779.9 864.3,781.8 868.1,784.8 C872.5,788.2 874.7,792.2 877.7,796.9 C881,802.2 882.5,806.9 885,812.6 C887.8,819 889.7,824.2 892.3,830.7 C894.9,837.2 896.7,842.4 899.5,848.9 C901.4,853.3 903.4,856.5 905,861 C906.5,865.2 906.9,868.7 908,873" stroke="url(#dots)" stroke-width="6.1"/></g>
<path d="M821.5,783.5 L832,795" fill="none" stroke="#0f1a23" stroke-width="1.3" stroke-linejoin="round" stroke-linecap="round" />
<path d="M216.2,346.8 L214.4,346.8 L214.4,334.5 L212.5,336 L210.8,336.8 L210.8,334.9 L213.4,333.2 L215,331 L216.2,331Z" fill="#14212b" stroke="#14212b" stroke-width="0.5"/><text transform="translate(220 346.8) scale(0.94 1)" font-size="22" stroke="#14212b" stroke-width="0.5">5</text>
<path d="M238,340.4 L256,340.4" stroke="#0f1a23" stroke-width="1.6" fill="none"/>
<path d="M224.2,411.5 L222.4,411.5 L222.4,399.2 L220.5,400.7 L218.8,401.5 L218.8,399.6 L221.4,397.9 L223,395.7 L224.2,395.7Z" fill="#14212b" stroke="#14212b" stroke-width="0.5"/><text transform="translate(228 411.5) scale(0.94 1)" font-size="22" stroke="#14212b" stroke-width="0.5">4</text>
<path d="M244.5,406.3 L262,406.3" stroke="#0f1a23" stroke-width="1.6" fill="none"/>
<path d="M228.7,477.8 L226.9,477.8 L226.9,465.5 L225,467 L223.3,467.8 L223.3,465.9 L225.9,464.2 L227.5,462 L228.7,462Z" fill="#14212b" stroke="#14212b" stroke-width="0.5"/><text transform="translate(232.5 477.8) scale(0.94 1)" font-size="22" stroke="#14212b" stroke-width="0.5">3</text>
<path d="M249.4,473 L268.1,473" stroke="#0f1a23" stroke-width="1.6" fill="none"/>
<text transform="translate(244 562) scale(0.94 1)" font-size="22" stroke="#14212b" stroke-width="0.5">9</text>
<path d="M258.5,554.7 L276.6,554.7" stroke="#0f1a23" stroke-width="1.6" fill="none"/>
<path d="M505.7,357 L503.9,357 L503.9,344.7 L502,346.2 L500.3,347 L500.3,345.1 L502.9,343.4 L504.5,341.2 L505.7,341.2Z" fill="#14212b" stroke="#14212b" stroke-width="0.5"/>
<path d="M429,389.8 L440.3,375.6 L490.7,375.6 L504,361.9 L516.9,375.6 L567.3,375.6 L578.2,389.8" fill="none" stroke="#0f1a23" stroke-width="1.9" stroke-linejoin="round" stroke-linecap="round" />
<text transform="translate(449.5 394.8) scale(0.94 1)" font-size="22" stroke="#14212b" stroke-width="0.5">2</text><text transform="translate(466.7 394.8) scale(0.94 1)" font-size="22" stroke="#14212b" stroke-width="0.5">-</text><text transform="translate(479.4 394.8) scale(0.94 1)" font-size="22" stroke="#14212b" stroke-width="0.5">2</text><text transform="translate(490.9 394.8) scale(0.94 1)" font-size="22" stroke="#14212b" stroke-width="0.5">0</text>
<path d="M554.2,383.5 L554.2,428" stroke="#0f1a23" stroke-width="1.6" fill="none"/>
<text transform="translate(788 318.5) scale(0.94 1)" font-size="22" stroke="#14212b" stroke-width="0.5">6</text>
<path d="M765.4,310.3 L785.4,310.3" stroke="#0f1a23" stroke-width="1.6" fill="none"/>
<text transform="translate(854.5 400) scale(0.94 1)" font-size="22" stroke="#14212b" stroke-width="0.5">7</text>
<path d="M832.5,392.1 L851.6,392.1" stroke="#0f1a23" stroke-width="1.6" fill="none"/>
<path d="M632.7,518 L630.9,518 L630.9,505.7 L629,507.2 L627.3,508 L627.3,506.1 L629.9,504.4 L631.5,502.2 L632.7,502.2Z" fill="#14212b" stroke="#14212b" stroke-width="0.5"/><text transform="translate(636.5 518) scale(0.94 1)" font-size="22" stroke="#14212b" stroke-width="0.5">2</text>
<path d="M637.8,522.3 L637.8,546" stroke="#0f1a23" stroke-width="1.6" fill="none"/>
<path d="M237.2,714.5 L235.4,714.5 L235.4,702.2 L233.5,703.7 L231.8,704.5 L231.8,702.6 L234.4,700.9 L236,698.7 L237.2,698.7Z" fill="#14212b" stroke="#14212b" stroke-width="0.5"/><text transform="translate(241 714.5) scale(0.94 1)" font-size="22" stroke="#14212b" stroke-width="0.5">2</text>
<path d="M242.7,720 L242.7,742.6" stroke="#0f1a23" stroke-width="1.6" fill="none"/>
<text transform="translate(884 735) scale(0.94 1)" font-size="22" stroke="#14212b" stroke-width="0.5">8</text>
<path d="M892,740.9 L892,763.6" stroke="#0f1a23" stroke-width="1.6" fill="none"/>
<text transform="translate(484 811.5) scale(0.94 1)" font-size="22" stroke="#14212b" stroke-width="0.5">5</text>
<path d="M498.2,805.4 L517.8,805.4" stroke="#0f1a23" stroke-width="1.6" fill="none"/>
<text transform="translate(611 924.5) scale(0.94 1)" font-size="22" stroke="#14212b" stroke-width="0.5">3</text>
<path d="M626.3,917.7 L644.4,917.7" stroke="#0f1a23" stroke-width="1.6" fill="none"/>
<path d="M397.5,917.6 L395.7,917.6 L395.7,905.3 L393.8,906.8 L392.1,907.6 L392.1,905.7 L394.7,904 L396.3,901.8 L397.5,901.8Z" fill="#14212b" stroke="#14212b" stroke-width="0.5"/><path d="M409,917.6 L407.2,917.6 L407.2,905.3 L405.3,906.8 L403.6,907.6 L403.6,905.7 L406.2,904 L407.8,901.8 L409,901.8Z" fill="#14212b" stroke="#14212b" stroke-width="0.5"/>
<path d="M375.5,910.2 L392,910.2" stroke="#0f1a23" stroke-width="1.6" fill="none"/>
<path d="M831.2,987.8 L829.4,987.8 L829.4,975.5 L827.5,977 L825.8,977.8 L825.8,975.9 L828.4,974.2 L830,972 L831.2,972Z" fill="#14212b" stroke="#14212b" stroke-width="0.5"/><text transform="translate(835 987.8) scale(0.94 1)" font-size="22" stroke="#14212b" stroke-width="0.5">2</text>
<path d="M837.6,946.5 L837.6,969" stroke="#0f1a23" stroke-width="1.6" fill="none"/>
<path d="M425.2,1010.5 L423.4,1010.5 L423.4,998.2 L421.5,999.7 L419.8,1000.5 L419.8,998.6 L422.4,996.9 L424,994.7 L425.2,994.7Z" fill="#14212b" stroke="#14212b" stroke-width="0.5"/><text transform="translate(429 1010.5) scale(0.94 1)" font-size="22" stroke="#14212b" stroke-width="0.5">0</text>
<path d="M431.5,1015.5 L431.5,1038" stroke="#0f1a23" stroke-width="1.6" fill="none"/>
<text transform="translate(240 1106.3) scale(0.94 1)" font-size="22" stroke="#14212b" stroke-width="0.5">4</text>
<path d="M246.5,1110.4 L246.5,1165.4" stroke="#0f1a23" stroke-width="1.6" fill="none"/>
<path d="M316.7,1109.3 L314.9,1109.3 L314.9,1097 L313,1098.5 L311.3,1099.3 L311.3,1097.4 L313.9,1095.7 L315.5,1093.5 L316.7,1093.5Z" fill="#14212b" stroke="#14212b" stroke-width="0.5"/><text transform="translate(320.5 1109.3) scale(0.94 1)" font-size="22" stroke="#14212b" stroke-width="0.5">6</text>
<path d="M323.9,1114.6 L323.9,1158.2" stroke="#0f1a23" stroke-width="1.6" fill="none"/>
<path d="M446.7,1105.5 L444.9,1105.5 L444.9,1093.2 L443,1094.7 L441.3,1095.5 L441.3,1093.6 L443.9,1091.9 L445.5,1089.7 L446.7,1089.7Z" fill="#14212b" stroke="#14212b" stroke-width="0.5"/><text transform="translate(450.5 1105.5) scale(0.94 1)" font-size="22" stroke="#14212b" stroke-width="0.5">7</text>
<path d="M452.2,1110.4 L452.2,1157" stroke="#0f1a23" stroke-width="1.6" fill="none"/>
<path d="M586.7,1105.8 L584.9,1105.8 L584.9,1093.5 L583,1095 L581.3,1095.8 L581.3,1093.9 L583.9,1092.2 L585.5,1090 L586.7,1090Z" fill="#14212b" stroke="#14212b" stroke-width="0.5"/><text transform="translate(590.5 1105.8) scale(0.94 1)" font-size="22" stroke="#14212b" stroke-width="0.5">8</text>
<path d="M592.6,1110 L592.6,1159.5" stroke="#0f1a23" stroke-width="1.6" fill="none"/>
<path d="M701.2,1099 L699.4,1099 L699.4,1086.7 L697.5,1088.2 L695.8,1089 L695.8,1087.1 L698.4,1085.4 L700,1083.2 L701.2,1083.2Z" fill="#14212b" stroke="#14212b" stroke-width="0.5"/><text transform="translate(705 1099) scale(0.94 1)" font-size="22" stroke="#14212b" stroke-width="0.5">9</text>
<path d="M708.2,1102.3 L708.2,1156.5" stroke="#0f1a23" stroke-width="1.6" fill="none"/>
<text transform="translate(831 1099) scale(0.94 1)" font-size="22" stroke="#14212b" stroke-width="0.5">2</text><text transform="translate(842.5 1099) scale(0.94 1)" font-size="22" stroke="#14212b" stroke-width="0.5">0</text>
<path d="M842.8,1102.3 L842.8,1156.5" stroke="#0f1a23" stroke-width="1.6" fill="none"/>
<rect x="0" y="1401" width="32" height="2" fill="#0f1820"/><rect x="32" y="1402" width="960" height="1" fill="#0f1820"/>
<path d="M346,1223.4 L480.8,1146.6 L519.6,1135.1 L528.5,1135.7 L528.5,1137.5 L524,1142.2 L486.3,1154.4 L351,1230.9Z" fill="#7d9aae" stroke="#0f1a23" stroke-width="1.2" stroke-linejoin="round"/>
<path d="M346,1223.4 L480.8,1146.6 L519.6,1135.1 L528.5,1135.7 L528.5,1136.8 L522.2,1139.4 L484.1,1151.3 L349,1227.9Z" fill="#a9bfcc"/>
<path d="M346,1223.4 L480.8,1146.6 L519.6,1135.1 L528.5,1135.7 L528.5,1137.5 L524,1142.2 L486.3,1154.4 L351,1230.9Z" fill="none" stroke="#0f1a23" stroke-width="1.2" stroke-linejoin="round"/>
<path d="M486.9,1147.1 L490.1,1151.7 M489.7,1146.3 L492.9,1150.9 M492.5,1145.4 L495.6,1150 M495.3,1144.6 L498.4,1149.1 M498.1,1143.7 L501.1,1148.2 M500.9,1142.9 L503.9,1147.3 M503.7,1142 L506.6,1146.5 M506.5,1141.2 L509.4,1145.6 M509.3,1140.3 L512.2,1144.7 M512.1,1139.5 L514.9,1143.8 " stroke="#2f4557" stroke-width="0.8" fill="none"/>
<path d="M328.5,1225 C328.6,1223.6 328.9,1220.6 329.7,1219.5 C330.7,1218.1 334,1216.6 335.7,1216.5 C336.5,1216.4 338.1,1216.4 338.8,1216.8 C339.5,1217.2 340,1219 340.6,1219.5 C341.8,1220.5 345.3,1219.9 346.6,1220.7 C347.3,1221.2 348.5,1222.4 349,1223.1 C350.6,1225.1 354.2,1230.7 352.7,1232.8 C351.7,1234.1 347.8,1234 346.6,1235.2 C345.6,1236.2 345.3,1239.3 344.2,1240.1 C343.3,1240.8 341.1,1241.3 340,1241.3 C338.4,1241.3 335.2,1239.9 333.9,1238.9 C332.4,1237.8 330.4,1234.5 329.7,1232.8 C329,1231 328.4,1227 328.5,1225Z" fill="#7a98ac" stroke="#0f1a23" stroke-width="1.5" stroke-linejoin="round" stroke-linecap="round" />
<path d="M329.1,1225.6 C329.3,1224.1 329.6,1221.9 330.6,1220.8 C331.6,1219.6 333.8,1218.6 335.4,1218.6 C336.9,1218.6 338.9,1219.8 340,1220.8 C341.3,1222 342.2,1224.5 342.7,1226.2 C343.2,1227.9 343.5,1230.4 343.3,1232.2 C343.1,1234.3 342.6,1237.6 340.9,1238.9 C340.2,1239.4 339,1240 338.1,1240.1 C336.7,1240.2 335,1238.9 333.9,1238 C332.4,1236.8 331,1234.3 330.3,1232.5 C329.5,1230.6 328.9,1227.7 329.1,1225.6Z" fill="#8fa9ba" stroke="#0f1a23" stroke-width="1.2" stroke-linejoin="round" stroke-linecap="round" />
<path d="M332.1,1226.2 C332.6,1225 334.4,1223.9 335.7,1223.8 C337.1,1223.6 339.1,1224.6 340,1225.6 C341.1,1226.8 341.8,1229.4 341.2,1231 C340.7,1232.2 339.4,1233.8 338.1,1234 C336.7,1234.2 334.9,1232.7 333.9,1231.6 C332.8,1230.3 331.4,1227.7 332.1,1226.2Z" fill="#7391a6" stroke="#0f1a23" stroke-width="1.1" stroke-linejoin="round" stroke-linecap="round" />
<path d="M334.5,1227.4 C334.9,1226.5 336.6,1225.9 337.5,1226.2 C338.4,1226.5 339.5,1227.7 339.4,1228.6 C339.3,1229.5 337.8,1230.4 336.9,1230.4 C335.7,1230.4 334.1,1228.5 334.5,1227.4Z" fill="#d6e1e8" stroke="#0f1a23" stroke-width="0" stroke-linejoin="round" stroke-linecap="round" />
<path d="M467.8,1232.9 L544,1186.9 L568.2,1173.4 L611.8,1146.8 L650.5,1134.9 L661.4,1136.1 L661.4,1137.8 L657.8,1141.5 L617.8,1152.3 L571.9,1179 L551.3,1192.3 L471,1239.4Z" fill="#7d9aae" stroke="#0f1a23" stroke-width="1.2" stroke-linejoin="round"/>
<path d="M467.8,1232.9 L544,1186.9 L568.2,1173.4 L611.8,1146.8 L650.5,1134.9 L661.4,1136.1 L661.4,1137.1 L654.9,1138.9 L615.4,1150.1 L570.4,1176.8 L548.4,1190.1 L469.7,1236.8Z" fill="#a9bfcc"/>
<path d="M467.8,1232.9 L544,1186.9 L568.2,1173.4 L611.8,1146.8 L650.5,1134.9 L661.4,1136.1 L661.4,1137.8 L657.8,1141.5 L617.8,1152.3 L571.9,1179 L551.3,1192.3 L471,1239.4Z" fill="none" stroke="#0f1a23" stroke-width="1.2" stroke-linejoin="round"/>
<path d="M618.1,1146.7 L621.8,1150.1 M620.9,1145.9 L624.7,1149.3 M623.8,1145.1 L627.6,1148.5 M626.6,1144.2 L630.5,1147.7 M629.4,1143.4 L633.4,1146.9 M632.3,1142.5 L636.3,1146.1 M635.1,1141.7 L639.2,1145.3 M638,1140.8 L642,1144.5 M640.8,1140 L644.9,1143.7 M643.6,1139.1 L647.8,1143 " stroke="#2f4557" stroke-width="0.8" fill="none"/>
<path d="M449.7,1234.6 L459.4,1229 L470.2,1234.6 L471,1241.9 L460.6,1247.9 L450.9,1243.1Z" fill="#64849a" stroke="#0f1a23" stroke-width="1.2" stroke-linejoin="round"/>
<path d="M449.7,1234.6 L459.4,1229 L470.2,1234.6 L460.2,1240Z" fill="#a3b9c6" stroke="#0f1a23" stroke-width="1.1" stroke-linejoin="round"/>
<g stroke="#0f1a23" stroke-width="1.2"><ellipse cx="555.7" cy="1181.5" rx="14.5" ry="8.6" fill="#a3b9c6"/><path d="M548,1186 q8,7 16,0" fill="#64849a"/><path d="M551.5,1183 L552,1170.5 Q555.7,1167 559.4,1170.5 L560,1183 Q555.7,1186 551.5,1183Z" fill="#c4d3dc"/><path d="M552,1173.5 h7.6 M552,1176.5 h7.8 M552,1179.5 h8" stroke-width="0.9" fill="none"/></g>
<path d="M601.5,1222.5 L731.5,1149.8 L767.5,1139.6 L775.9,1140.4 L775.9,1142.2 L773.8,1144.9 L739.9,1156.5 L605.5,1230Z" fill="#7d9aae" stroke="#0f1a23" stroke-width="1.2" stroke-linejoin="round"/>
<path d="M601.5,1222.5 L731.5,1149.8 L767.5,1139.6 L775.9,1140.4 L775.9,1141.5 L771.3,1142.8 L736.5,1153.8 L603.9,1227Z" fill="#a9bfcc"/>
<path d="M601.5,1222.5 L731.5,1149.8 L767.5,1139.6 L775.9,1140.4 L775.9,1142.2 L773.8,1144.9 L739.9,1156.5 L605.5,1230Z" fill="none" stroke="#0f1a23" stroke-width="1.2" stroke-linejoin="round"/>
<path d="M738,1150.2 L742.8,1154.1 M740.5,1149.4 L745.3,1153.3 M743.1,1148.6 L747.8,1152.4 M745.7,1147.9 L750.3,1151.6 M748.3,1147.1 L752.8,1150.8 M750.9,1146.3 L755.3,1150 M753.4,1145.6 L757.8,1149.1 M756,1144.8 L760.3,1148.3 M758.6,1144 L762.7,1147.5 M761.2,1143.3 L765.2,1146.6 " stroke="#2f4557" stroke-width="0.8" fill="none"/>
<path d="M582.1,1224.4 C582.4,1223.2 584.1,1220.3 585.1,1219.5 C586.1,1218.7 589.4,1216.9 590.6,1217.4 C591.3,1217.7 592.4,1219.6 593,1220.1 C593.8,1220.8 596.2,1222.2 597.2,1222.5 C598.1,1222.7 600.8,1221.9 601.5,1222.5 C602.1,1223 602.4,1224.9 602.7,1225.6 C603.4,1227.3 606.4,1231.7 605.7,1233.4 C605.2,1234.5 602.4,1236.2 601.5,1237.1 C600.6,1238 598.9,1240.8 597.8,1241.3 C596.6,1241.9 593,1241.8 591.8,1241.3 C590.6,1240.9 588.3,1238.6 587.5,1237.7 C586.3,1236.4 583.9,1232.6 583.3,1231 C582.8,1229.6 581.8,1225.8 582.1,1224.4Z" fill="#6f8ea3" stroke="#0f1a23" stroke-width="1.5" stroke-linejoin="round" stroke-linecap="round" />
<path d="M583,1225 C583.4,1223.5 584.5,1221.7 585.7,1220.8 C586.9,1220 588.9,1219.2 590.3,1219.5 C591.8,1219.8 593.3,1221.4 594.2,1222.5 C595.3,1223.9 596.1,1226.3 596.6,1228 C597.1,1229.8 597.4,1232.2 597.2,1234 C597,1235.7 596.8,1238.5 595.4,1239.5 C594.5,1240.2 592.9,1240.6 591.8,1240.4 C590.3,1240.2 588.9,1238.2 587.8,1237.1 C586.3,1235.5 584.6,1233 583.9,1231 C583.3,1229.3 582.6,1226.8 583,1225Z" fill="#8fa9ba" stroke="#0f1a23" stroke-width="1.1" stroke-linejoin="round" stroke-linecap="round" />
<path d="M588.1,1227.4 C589.4,1227 592.4,1225.5 593.6,1226.2 C594.6,1226.8 595.4,1229.3 595.4,1230.4 C595.3,1232.6 589.9,1234 588.1,1235.2 C586.6,1236.2 583.9,1239.1 582.1,1239.5 C581.1,1239.7 578.7,1240.2 577.9,1239.5 C577.4,1239.1 576.8,1237.8 576.7,1237.1 C576.4,1235.6 578.2,1232.8 579.1,1231.6 C580.7,1229.7 585.7,1228.1 588.1,1227.4Z" fill="#c4d3dc" stroke="#0f1a23" stroke-width="1.3" stroke-linejoin="round" stroke-linecap="round" />
<path d="M588.3,1228.1 l2.6,4.6 M586.4,1229.3 l2.6,4.6 M584.5,1230.6 l2.6,4.6 M582.6,1231.8 l2.6,4.6 M580.7,1233.1 l2.6,4.6 " fill="none" stroke="#0f1a23" stroke-width="0.9" stroke-linejoin="round" stroke-linecap="round" />
<path d="M729,1223.8 L877.5,1141.3 L915.6,1129.9 L925,1131.1 L925,1133 L922,1136.4 L886,1148.1 L733,1231.5Z" fill="#7d9aae" stroke="#0f1a23" stroke-width="1.2" stroke-linejoin="round"/>
<path d="M729,1223.8 L877.5,1141.3 L915.6,1129.9 L925,1131.1 L925,1132.2 L919.4,1133.8 L882.6,1145.4 L731.4,1228.4Z" fill="#a9bfcc"/>
<path d="M729,1223.8 L877.5,1141.3 L915.6,1129.9 L925,1131.1 L925,1133 L922,1136.4 L886,1148.1 L733,1231.5Z" fill="none" stroke="#0f1a23" stroke-width="1.2" stroke-linejoin="round"/>
<path d="M884.2,1141.6 L889.2,1145.6 M887,1140.8 L891.8,1144.8 M889.7,1139.9 L894.5,1144 M892.4,1139.1 L897.1,1143.1 M895.2,1138.3 L899.7,1142.3 M897.9,1137.4 L902.4,1141.4 M900.6,1136.6 L905,1140.6 M903.4,1135.7 L907.7,1139.7 M906.1,1134.9 L910.3,1138.9 M908.8,1134.1 L913,1138 " stroke="#2f4557" stroke-width="0.8" fill="none"/>
<path d="M709.9,1225.4 C710.2,1224.2 711.9,1221.3 712.9,1220.5 C713.9,1219.7 717.2,1217.9 718.4,1218.4 C719.1,1218.7 720.2,1220.6 720.8,1221.1 C721.6,1221.8 724,1223.2 725,1223.5 C725.9,1223.7 728.6,1222.9 729.3,1223.5 C729.9,1224 730.2,1225.9 730.5,1226.6 C731.2,1228.3 734.2,1232.7 733.5,1234.4 C733,1235.5 730.2,1237.2 729.3,1238.1 C728.4,1239 726.7,1241.8 725.6,1242.3 C724.4,1242.9 720.8,1242.8 719.6,1242.3 C718.4,1241.9 716.1,1239.6 715.3,1238.7 C714.1,1237.4 711.7,1233.6 711.1,1232 C710.6,1230.6 709.6,1226.8 709.9,1225.4Z" fill="#6f8ea3" stroke="#0f1a23" stroke-width="1.5" stroke-linejoin="round" stroke-linecap="round" />
<path d="M710.8,1226 C711.2,1224.5 712.3,1222.7 713.5,1221.8 C714.7,1221 716.7,1220.2 718.1,1220.5 C719.6,1220.8 721.1,1222.4 722,1223.5 C723.1,1224.9 723.9,1227.3 724.4,1229 C724.9,1230.8 725.2,1233.2 725,1235 C724.8,1236.7 724.6,1239.5 723.2,1240.5 C722.3,1241.2 720.7,1241.6 719.6,1241.4 C718.1,1241.2 716.7,1239.2 715.6,1238.1 C714.1,1236.5 712.4,1234 711.7,1232 C711.1,1230.3 710.4,1227.8 710.8,1226Z" fill="#8fa9ba" stroke="#0f1a23" stroke-width="1.1" stroke-linejoin="round" stroke-linecap="round" />
<path d="M715.9,1228.4 C717.2,1228 720.2,1226.5 721.4,1227.2 C722.4,1227.8 723.2,1230.3 723.2,1231.4 C723.1,1233.6 717.7,1235 715.9,1236.2 C714.4,1237.2 711.7,1240.1 709.9,1240.5 C708.9,1240.7 706.5,1241.2 705.7,1240.5 C705.2,1240.1 704.6,1238.8 704.5,1238.1 C704.2,1236.6 706,1233.8 706.9,1232.6 C708.5,1230.7 713.5,1229.1 715.9,1228.4Z" fill="#c4d3dc" stroke="#0f1a23" stroke-width="1.3" stroke-linejoin="round" stroke-linecap="round" />
<path d="M716.1,1229.1 l2.6,4.6 M714.2,1230.3 l2.6,4.6 M712.3,1231.6 l2.6,4.6 M710.4,1232.8 l2.6,4.6 M708.5,1234.1 l2.6,4.6 " fill="none" stroke="#0f1a23" stroke-width="0.9" stroke-linejoin="round" stroke-linecap="round" />
<path d="M233.6,1181.2 C234,1184 233.3,1186.6 234.8,1189 C236.2,1191.3 238.3,1192.6 240.8,1193.5 C243.9,1194.6 246.7,1194.2 249.9,1193.5 C254,1192.5 256.7,1190.4 259.9,1187.7 C263.2,1184.8 265.6,1182.1 267.5,1178.1 C269.3,1174.2 269.6,1170.6 269.9,1166.3 C270.1,1164 270.4,1162.1 269.9,1159.9 C267.7,1150 254.2,1168.7 245.4,1173.6Z" fill="#6f8ea3" stroke="#0f1a23" stroke-width="1.3" stroke-linejoin="round" stroke-linecap="round" />
<path d="M235.4,1184.4 C239,1185.2 241.7,1186.8 245.4,1186.6 C249.6,1186.4 252.7,1184.7 256.3,1182.6 C260,1180.4 262.7,1178 265.3,1174.5 C267.3,1171.8 268.1,1169.3 269.7,1166.3" fill="none" stroke="#0f1a23" stroke-width="1.1" stroke-linejoin="round" stroke-linecap="round" />
<path d="M237.2,1187.7 C240.5,1188.3 243,1189.7 246.3,1189.5 C250.5,1189.3 253.6,1187.6 257.2,1185.4 C260.8,1183.2 262.6,1180.3 265.7,1177.5" fill="none" stroke="#c9d7df" stroke-width="3.2" stroke-linejoin="round" stroke-linecap="round" />
<path d="M239,1191.3 C242.1,1191.7 244.4,1192.7 247.5,1192.3 C251.5,1191.8 254,1189.4 257.7,1187.7" fill="none" stroke="#aebfcc" stroke-width="1" stroke-linejoin="round" stroke-linecap="round" />
<path d="M229,1166.3 L255.4,1150.9 L269.9,1158.1 L269.9,1161.2 L245.4,1176.8 L229,1169Z" fill="#7f9cb0" stroke="#0f1a23" stroke-width="1.2" stroke-linejoin="round"/>
<path d="M229,1166.3 L255.4,1150.9 L269.9,1158.1 L245.4,1173.6Z" fill="#c4d3dc" stroke="#0f1a23" stroke-width="1.2" stroke-linejoin="round"/>
<path d="M247.5,1174.5 L248.6,1172.1 L250.8,1172.8 L252.6,1170.3 L254.8,1171 L256.6,1168.5 L258.8,1169.2 L260.6,1166.7 L262.8,1167.4 L264.6,1164.8 L266.8,1165.2" fill="none" stroke="#0f1a23" stroke-width="1" stroke-linejoin="round" stroke-linecap="round" />
<ellipse cx="249" cy="1162.3" rx="2.7" ry="2" fill="#f3f6f8" stroke="#0f1a23" stroke-width="1"/>
<path d="M215.4,1177.5 L220,1167.2 L222.7,1165.9 L234.8,1172.5 L233.8,1181.2 L229.9,1185.4Z" fill="#a9bfcc" stroke="#0f1a23" stroke-width="1.3" stroke-linejoin="round"/>
<path d="M220,1167.2 L222.7,1165.9 L234.8,1172.5 L232.7,1174.6Z" fill="#d6e1e8" stroke="#0f1a23" stroke-width="1" stroke-linejoin="round"/>
<path d="M232.7,1174.6 L229.9,1185.4" fill="none" stroke="#0f1a23" stroke-width="1" stroke-linejoin="round" stroke-linecap="round" />
<path d="M312.5,1201.7 L324.3,1208.4 L337.4,1199.9 L327,1193.9Z" fill="#7f9cb0" stroke="#0f1a23" stroke-width="1.2" stroke-linejoin="round"/>
<ellipse cx="325.2" cy="1198.6" rx="8.3" ry="3" fill="#e3ebf0" stroke="#0f1a23" stroke-width="1.1"/>
<ellipse cx="325.2" cy="1195" rx="8.3" ry="3" fill="#e3ebf0" stroke="#0f1a23" stroke-width="1.1"/>
<ellipse cx="325.2" cy="1191.3" rx="8.3" ry="3" fill="#e3ebf0" stroke="#0f1a23" stroke-width="1.1"/>
<path d="M286.8,1184.4 C287.3,1186.7 287.1,1188.7 288.2,1190.8 C289.5,1193.1 291.3,1194.3 293.5,1195.7 C295.3,1196.8 297,1197.2 298.9,1198.1 L303.4,1196.2 L318.0,1187.2 L320.7,1188.1 L353.4,1171.7 L354.3,1169.0 L362.4,1163.6 L363.3,1157.2 363.3,1157.2 C360.7,1156.2 358.5,1155.9 356.1,1154.5 C354.1,1153.3 352.4,1152.2 351,1150.3 C350.5,1149.6 350.2,1148.9 349.7,1148.1 L348.8,1151.8 L337.0,1159.9 L334.3,1159.0 L301.6,1179.9 L298.9,1178.1Z" fill="#c4d3dc" stroke="#0f1a23" stroke-width="1.3" stroke-linejoin="round" stroke-linecap="round" />
<path d="M286.8,1184.4 C287.3,1186.7 287.1,1188.7 288.2,1190.8 C289.5,1193.1 291.3,1194.3 293.5,1195.7 C295.3,1196.8 297,1197.2 298.9,1198.1 L303.4,1196.2 303.4,1196.2 C300.8,1194.9 298.4,1194.4 296.2,1192.6 C294.2,1191 292.7,1189.5 291.7,1187.2 C291,1185.5 291.1,1184.1 290.7,1182.3Z" fill="#6a8aa0" stroke="#0f1a23" stroke-width="1" stroke-linejoin="round" stroke-linecap="round" />
<path d="M349.7,1148.1 C350.2,1148.9 350.5,1149.6 351,1150.3 C352.4,1152.2 354.1,1153.3 356.1,1154.5 C358.5,1155.9 360.7,1156.2 363.3,1157.2 L362.4,1163.6 362.4,1163.6 C359.5,1162.6 356.9,1162.6 354.3,1160.9 C352.1,1159.4 350.6,1157.7 349.2,1155.4 C348.7,1154.5 348.4,1153.7 347.9,1152.7Z" fill="#6a8aa0" stroke="#0f1a23" stroke-width="1" stroke-linejoin="round" stroke-linecap="round" />
</svg>
</body></html>
